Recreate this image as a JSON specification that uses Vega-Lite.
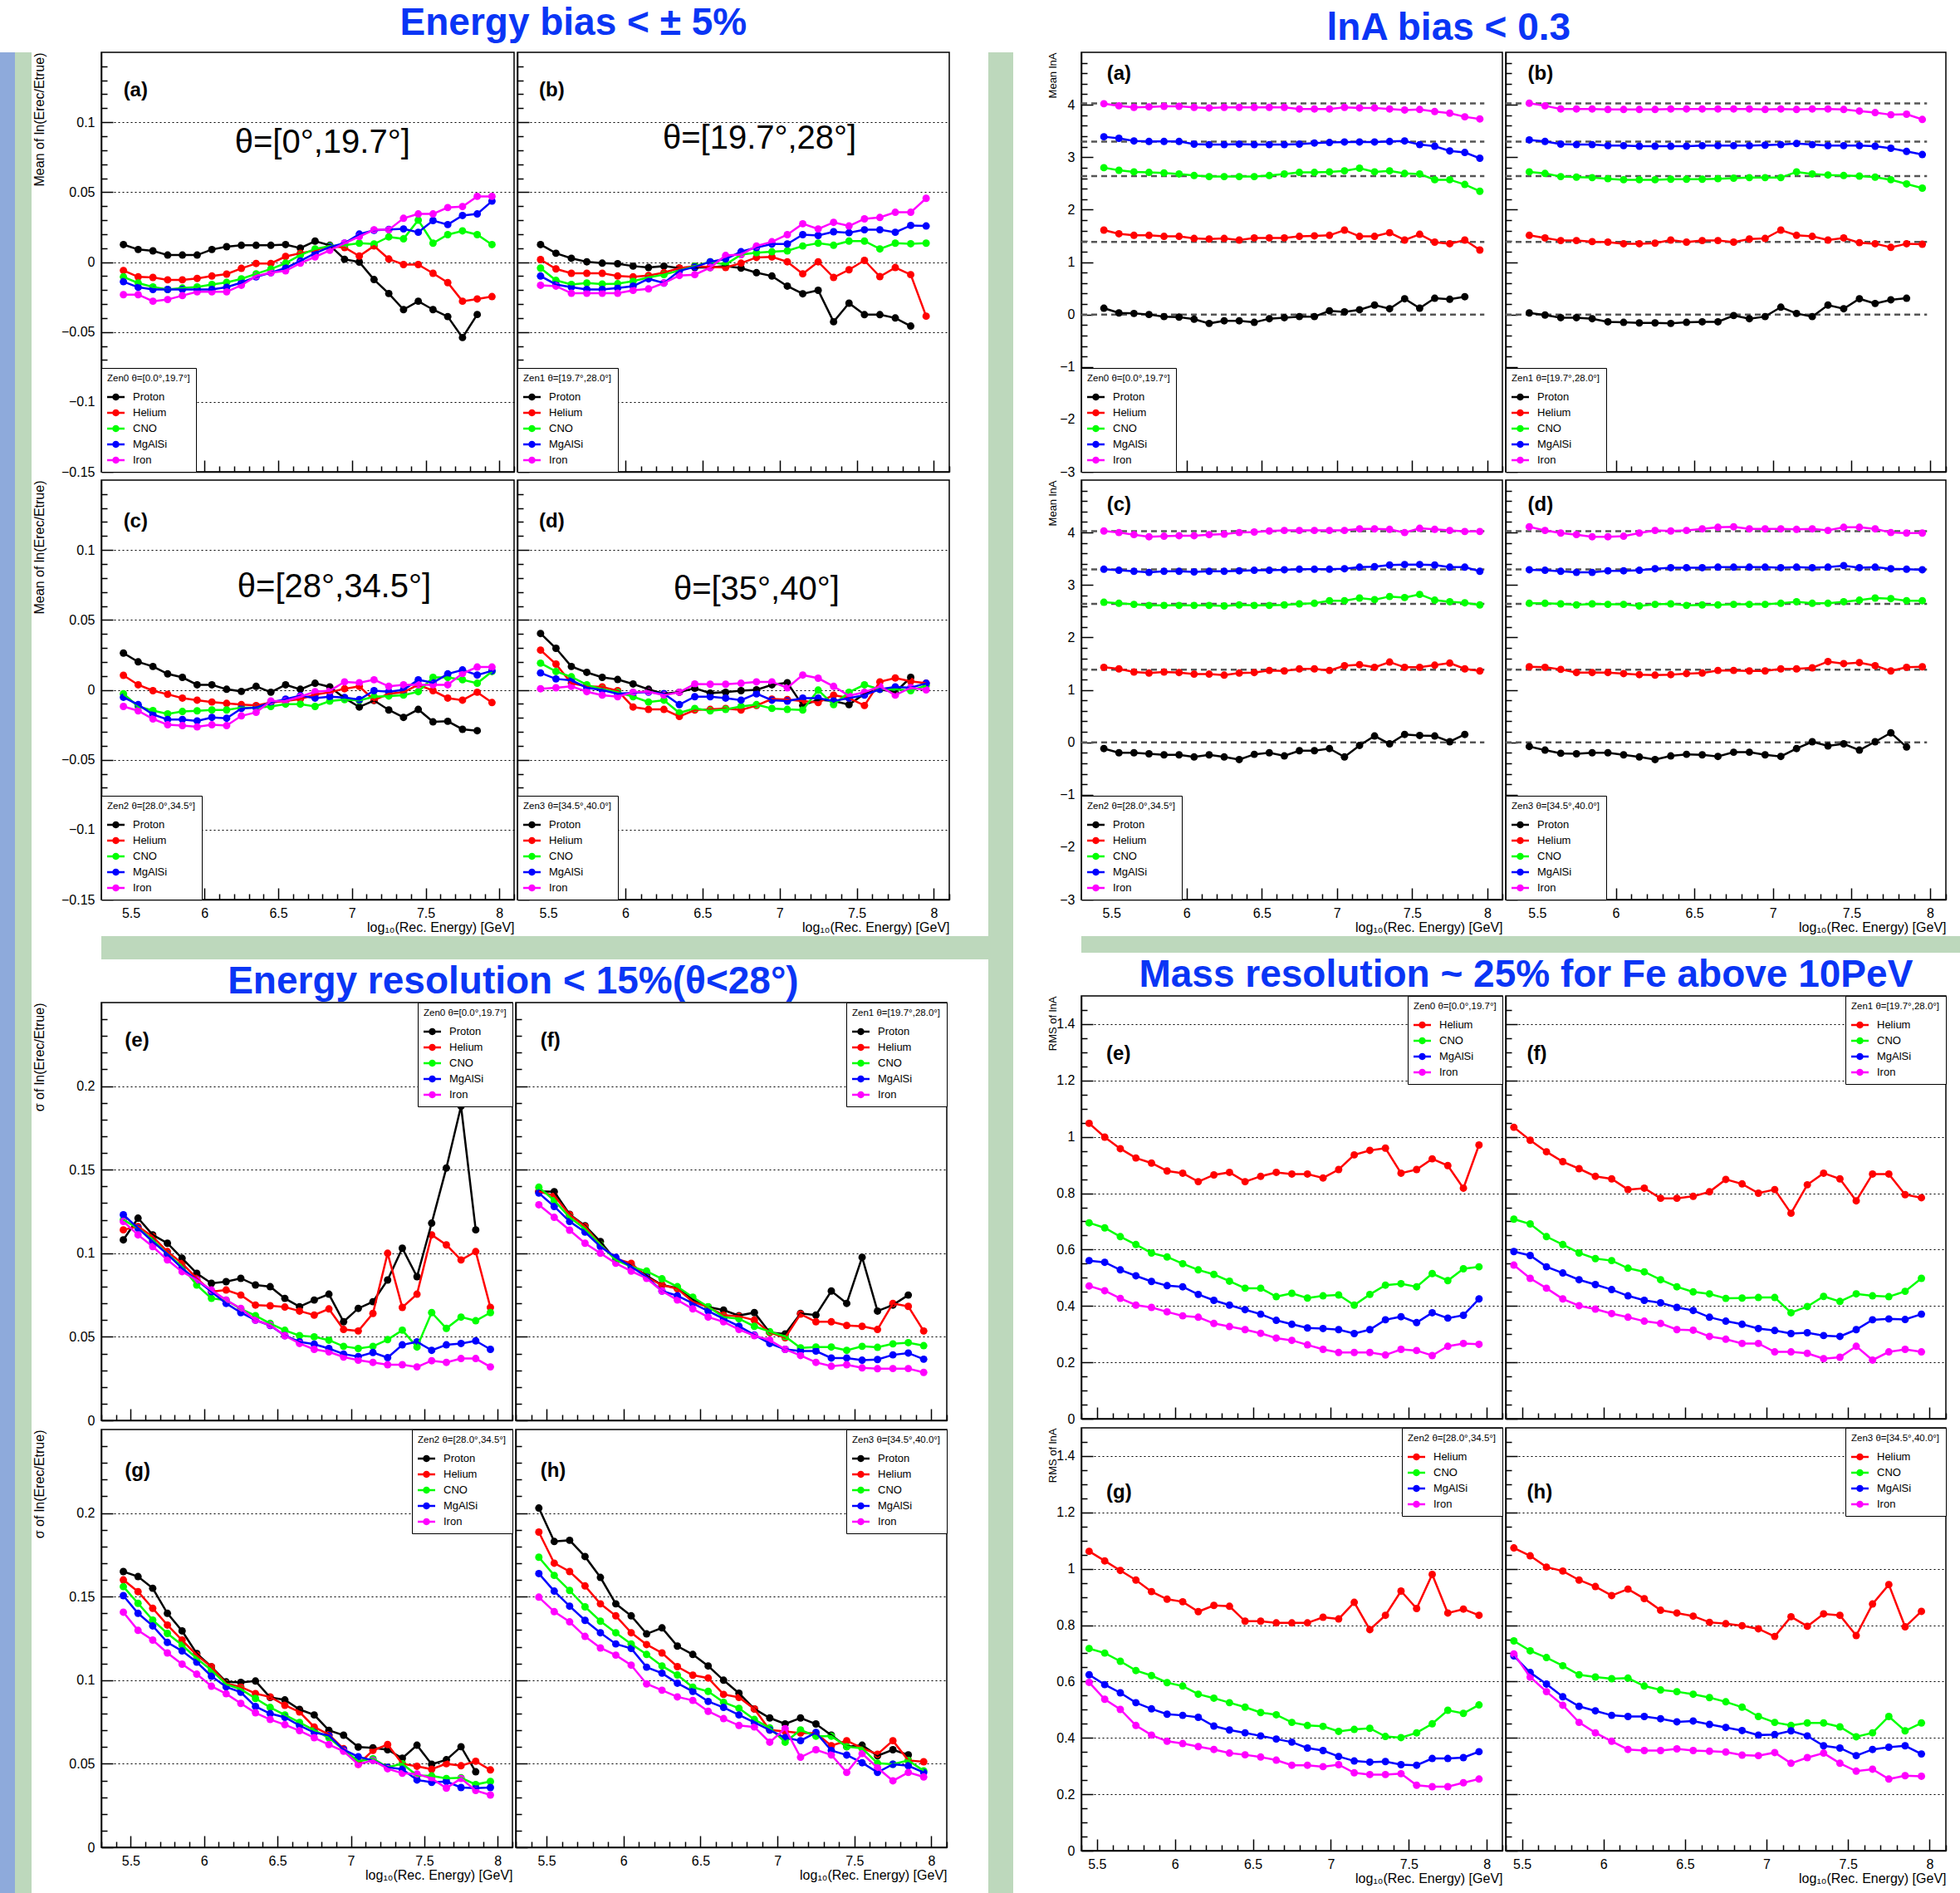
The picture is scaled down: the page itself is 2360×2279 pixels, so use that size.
{
"$schema":"https://vega.github.io/schema/vega-lite/v6.json",
"background":"white",
"padding":{"top":5,"left":0,"right":0,"bottom":0},
"datasets":{
"ref":[{"v":0},{"v":1.386},{"v":2.639},{"v":3.296},{"v":4.025}],
"d":[
{"p":"ea","s":"Proton","x":[5.45,5.55,5.65,5.75,5.85,5.95,6.05,6.15,6.25,6.35,6.45,6.55,6.65,6.75,6.85,6.95,7.05,7.15,7.25,7.35,7.45,7.55,7.65,7.75,7.85],"y":[0.0125,0.009,0.008,0.005,0.005,0.005,0.009,0.011,0.012,0.012,0.012,0.0125,0.010,0.015,0.012,0.002,0.0,-0.0125,-0.0225,-0.034,-0.028,-0.034,-0.039,-0.054,-0.0375]},
{"p":"ea","s":"Helium","x":[5.45,5.55,5.65,5.75,5.85,5.95,6.05,6.15,6.25,6.35,6.45,6.55,6.65,6.75,6.85,6.95,7.05,7.15,7.25,7.35,7.45,7.55,7.65,7.75,7.85,7.95],"y":[-0.006,-0.0106,-0.011,-0.0127,-0.0127,-0.0117,-0.010,-0.0086,-0.0045,-0.001,-0.001,0.004,0.0063,0.0084,0.0115,0.0104,0.0043,0.0115,0.0022,-0.0018,-0.0018,-0.008,-0.0147,-0.028,-0.0264,-0.0247]},
{"p":"ea","s":"CNO","x":[5.45,5.55,5.65,5.75,5.85,5.95,6.05,6.15,6.25,6.35,6.45,6.55,6.65,6.75,6.85,6.95,7.05,7.15,7.25,7.35,7.45,7.55,7.65,7.75,7.85,7.95],"y":[-0.0106,-0.015,-0.0178,-0.0196,-0.0186,-0.0178,-0.016,-0.0145,-0.012,-0.0084,-0.005,-0.0008,0.005,0.0094,0.0115,0.012,0.0135,0.0129,0.018,0.0166,0.030,0.0135,0.0196,0.0223,0.0196,0.0125]},
{"p":"ea","s":"MgAlSi","x":[5.45,5.55,5.65,5.75,5.85,5.95,6.05,6.15,6.25,6.35,6.45,6.55,6.65,6.75,6.85,6.95,7.05,7.15,7.25,7.35,7.45,7.55,7.65,7.75,7.85,7.95],"y":[-0.014,-0.018,-0.0196,-0.0196,-0.0196,-0.0196,-0.0196,-0.018,-0.0147,-0.0106,-0.0076,-0.0043,0.0008,0.0063,0.0108,0.0135,0.020,0.0227,0.0233,0.0237,0.0213,0.0297,0.0268,0.0333,0.0344,0.0436]},
{"p":"ea","s":"Iron","x":[5.45,5.55,5.65,5.75,5.85,5.95,6.05,6.15,6.25,6.35,6.45,6.55,6.65,6.75,6.85,6.95,7.05,7.15,7.25,7.35,7.45,7.55,7.65,7.75,7.85,7.95],"y":[-0.0233,-0.0233,-0.028,-0.0268,-0.024,-0.0213,-0.0213,-0.0213,-0.0166,-0.010,-0.0076,-0.0063,-0.0008,0.0037,0.0084,0.0135,0.0182,0.0231,0.0231,0.0313,0.0344,0.0344,0.039,0.0397,0.047,0.047]},
{"p":"eb","s":"Proton","x":[5.45,5.55,5.65,5.75,5.85,5.95,6.05,6.15,6.25,6.35,6.45,6.55,6.65,6.75,6.85,6.95,7.05,7.15,7.25,7.35,7.45,7.55,7.65,7.75,7.85],"y":[0.0125,0.0063,0.0027,0.0002,-0.0008,-0.0012,-0.0029,-0.0039,-0.0029,-0.0043,-0.0039,-0.0039,-0.0029,-0.0043,-0.0076,-0.010,-0.0172,-0.0227,-0.0202,-0.0427,-0.0294,-0.0376,-0.0376,-0.040,-0.0458]},
{"p":"eb","s":"Helium","x":[5.45,5.55,5.65,5.75,5.85,5.95,6.05,6.15,6.25,6.35,6.45,6.55,6.65,6.75,6.85,6.95,7.05,7.15,7.25,7.35,7.45,7.55,7.65,7.75,7.85,7.95],"y":[0.0018,-0.0049,-0.008,-0.008,-0.008,-0.010,-0.0106,-0.0096,-0.0076,-0.0043,-0.0029,-0.0035,-0.0039,-0.0008,0.0033,0.0037,0.0002,-0.0084,0.0002,-0.011,-0.0055,0.0012,-0.0104,-0.0039,-0.009,-0.0387]},
{"p":"eb","s":"CNO","x":[5.45,5.55,5.65,5.75,5.85,5.95,6.05,6.15,6.25,6.35,6.45,6.55,6.65,6.75,6.85,6.95,7.05,7.15,7.25,7.35,7.45,7.55,7.65,7.75,7.85,7.95],"y":[-0.0043,-0.0131,-0.016,-0.015,-0.0157,-0.0155,-0.0137,-0.011,-0.009,-0.006,-0.0029,0.0002,-0.0018,0.0053,0.0067,0.0074,0.008,0.0115,0.0135,0.012,0.015,0.015,0.0094,0.0135,0.0131,0.0135]},
{"p":"eb","s":"MgAlSi","x":[5.45,5.55,5.65,5.75,5.85,5.95,6.05,6.15,6.25,6.35,6.45,6.55,6.65,6.75,6.85,6.95,7.05,7.15,7.25,7.35,7.45,7.55,7.65,7.75,7.85,7.95],"y":[-0.010,-0.016,-0.018,-0.0196,-0.0196,-0.0186,-0.0172,-0.012,-0.015,-0.0063,-0.0035,0.0002,0.0022,0.0074,0.0104,0.0129,0.0129,0.0196,0.019,0.0217,0.021,0.0231,0.0231,0.0213,0.0262,0.0258]},
{"p":"eb","s":"Iron","x":[5.45,5.55,5.65,5.75,5.85,5.95,6.05,6.15,6.25,6.35,6.45,6.55,6.65,6.75,6.85,6.95,7.05,7.15,7.25,7.35,7.45,7.55,7.65,7.75,7.85,7.95],"y":[-0.0166,-0.0172,-0.0223,-0.0223,-0.0223,-0.0223,-0.0202,-0.0192,-0.015,-0.0096,-0.009,-0.0039,0.0047,0.0053,0.0115,0.0145,0.0196,0.0274,0.0237,0.0284,0.0258,0.0309,0.0319,0.0356,0.0356,0.0456]},
{"p":"ec","s":"Proton","x":[5.45,5.55,5.65,5.75,5.85,5.95,6.05,6.15,6.25,6.35,6.45,6.55,6.65,6.75,6.85,6.95,7.05,7.15,7.25,7.35,7.45,7.55,7.65,7.75,7.85],"y":[0.0263,0.020,0.0167,0.0114,0.0089,0.0036,0.0036,0.0004,-0.0011,0.0025,-0.0017,0.0036,0.0004,0.0047,0.0021,-0.0059,-0.0123,-0.0076,-0.0144,-0.0197,-0.014,-0.0229,-0.0225,-0.0282,-0.0292]},
{"p":"ec","s":"Helium","x":[5.45,5.55,5.65,5.75,5.85,5.95,6.05,6.15,6.25,6.35,6.45,6.55,6.65,6.75,6.85,6.95,7.05,7.15,7.25,7.35,7.45,7.55,7.65,7.75,7.85,7.95],"y":[0.0104,0.0036,-0.0006,-0.0032,-0.0059,-0.0074,-0.0087,-0.0097,-0.0106,-0.0112,-0.0091,-0.008,-0.0066,-0.0034,-0.0017,0.0008,0.0025,-0.0074,-0.0028,-0.0017,0.0036,-0.0006,-0.0059,-0.0074,-0.0017,-0.0091]},
{"p":"ec","s":"CNO","x":[5.45,5.55,5.65,5.75,5.85,5.95,6.05,6.15,6.25,6.35,6.45,6.55,6.65,6.75,6.85,6.95,7.05,7.15,7.25,7.35,7.45,7.55,7.65,7.75,7.85,7.95],"y":[-0.0028,-0.0119,-0.0148,-0.0172,-0.0155,-0.015,-0.0144,-0.0144,-0.0127,-0.0127,-0.0119,-0.0102,-0.0102,-0.0119,-0.008,-0.007,-0.0076,-0.0049,-0.0044,-0.0038,-0.0013,0.0089,0.0089,0.0072,0.0047,0.0131]},
{"p":"ec","s":"MgAlSi","x":[5.45,5.55,5.65,5.75,5.85,5.95,6.05,6.15,6.25,6.35,6.45,6.55,6.65,6.75,6.85,6.95,7.05,7.15,7.25,7.35,7.45,7.55,7.65,7.75,7.85,7.95],"y":[-0.0053,-0.0106,-0.0176,-0.0212,-0.0212,-0.0222,-0.0197,-0.0203,-0.0133,-0.0127,-0.0091,-0.0066,-0.0042,-0.0059,-0.0049,-0.0055,-0.007,-0.0006,-0.0013,0,0.0072,0.0051,0.0114,0.0142,0.0106,0.0136]},
{"p":"ec","s":"Iron","x":[5.45,5.55,5.65,5.75,5.85,5.95,6.05,6.15,6.25,6.35,6.45,6.55,6.65,6.75,6.85,6.95,7.05,7.15,7.25,7.35,7.45,7.55,7.65,7.75,7.85,7.95],"y":[-0.0119,-0.015,-0.0208,-0.025,-0.0256,-0.0265,-0.025,-0.0256,-0.0186,-0.0161,-0.008,-0.008,-0.0049,-0.0013,-0.0006,0.0057,0.0051,0.0072,0.0025,0.0036,0.0036,0.0036,0.0036,0.0117,0.0163,0.0163]},
{"p":"ed","s":"Proton","x":[5.45,5.55,5.65,5.75,5.85,5.95,6.05,6.15,6.25,6.35,6.45,6.55,6.65,6.75,6.85,6.95,7.05,7.15,7.25,7.35,7.45,7.55,7.65,7.75,7.85],"y":[0.0403,0.0297,0.0167,0.0125,0.0089,0.0074,0.0042,0.0004,-0.0028,-0.0017,0.0011,-0.0023,-0.0017,-0.0006,0,0.0036,0.0051,-0.0112,-0.007,-0.008,-0.0106,-0.0028,0.0004,-0.0017,0.0089]},
{"p":"ed","s":"Helium","x":[5.45,5.55,5.65,5.75,5.85,5.95,6.05,6.15,6.25,6.35,6.45,6.55,6.65,6.75,6.85,6.95,7.05,7.15,7.25,7.35,7.45,7.55,7.65,7.75,7.85,7.95],"y":[0.0284,0.0184,0.0047,0.0025,0.0021,-0.0006,-0.0123,-0.014,-0.014,-0.0191,-0.0144,-0.014,-0.0133,-0.0144,-0.0112,-0.0066,-0.007,-0.008,-0.0091,-0.0038,-0.0059,-0.0112,0.0057,0.0085,0.0061,0.0047]},
{"p":"ed","s":"CNO","x":[5.45,5.55,5.65,5.75,5.85,5.95,6.05,6.15,6.25,6.35,6.45,6.55,6.65,6.75,6.85,6.95,7.05,7.15,7.25,7.35,7.45,7.55,7.65,7.75,7.85,7.95],"y":[0.0191,0.0131,0.0093,0.0036,0.0004,-0.0017,-0.0049,-0.0087,-0.0074,-0.0165,-0.0133,-0.015,-0.014,-0.0119,-0.0106,-0.0133,-0.014,-0.0144,-0.0002,-0.0106,-0.0017,0.0036,0.0004,0.0004,-0.0006,0.003]},
{"p":"ed","s":"MgAlSi","x":[5.45,5.55,5.65,5.75,5.85,5.95,6.05,6.15,6.25,6.35,6.45,6.55,6.65,6.75,6.85,6.95,7.05,7.15,7.25,7.35,7.45,7.55,7.65,7.75,7.85,7.95],"y":[0.0121,0.0078,0.0068,0.0015,-0.0002,-0.0028,-0.0021,-0.0017,-0.0028,-0.0106,-0.0049,-0.0049,-0.0059,-0.0074,-0.0028,-0.0074,-0.008,-0.0059,-0.0059,-0.008,-0.0059,-0.0038,0.0004,0.0021,0.0015,0.0047]},
{"p":"ed","s":"Iron","x":[5.45,5.55,5.65,5.75,5.85,5.95,6.05,6.15,6.25,6.35,6.45,6.55,6.65,6.75,6.85,6.95,7.05,7.15,7.25,7.35,7.45,7.55,7.65,7.75,7.85,7.95],"y":[0.0008,0.0015,0.0025,-0.0013,-0.0038,-0.0049,-0.0017,-0.0013,-0.0038,-0.0017,0.0042,0.004,0.004,0.0047,0.0057,0.0057,0.0015,0.0106,0.0083,0.0025,-0.0042,-0.0017,0.0025,-0.0038,0.0015,0]},
{"p":"la","s":"Proton","x":[5.45,5.55,5.65,5.75,5.85,5.95,6.05,6.15,6.25,6.35,6.45,6.55,6.65,6.75,6.85,6.95,7.05,7.15,7.25,7.35,7.45,7.55,7.65,7.75,7.85],"y":[0.12,0.03,0.02,0,-0.04,-0.05,-0.09,-0.17,-0.12,-0.12,-0.15,-0.08,-0.06,-0.04,-0.04,0.07,0.05,0.09,0.18,0.11,0.30,0.12,0.31,0.29,0.34]},
{"p":"la","s":"Helium","x":[5.45,5.55,5.65,5.75,5.85,5.95,6.05,6.15,6.25,6.35,6.45,6.55,6.65,6.75,6.85,6.95,7.05,7.15,7.25,7.35,7.45,7.55,7.65,7.75,7.85,7.95],"y":[1.61,1.54,1.51,1.51,1.49,1.49,1.45,1.44,1.45,1.42,1.46,1.46,1.46,1.49,1.50,1.51,1.61,1.49,1.49,1.56,1.42,1.53,1.38,1.35,1.42,1.23]},
{"p":"la","s":"CNO","x":[5.45,5.55,5.65,5.75,5.85,5.95,6.05,6.15,6.25,6.35,6.45,6.55,6.65,6.75,6.85,6.95,7.05,7.15,7.25,7.35,7.45,7.55,7.65,7.75,7.85,7.95],"y":[2.80,2.75,2.72,2.71,2.70,2.68,2.65,2.63,2.63,2.63,2.63,2.65,2.68,2.71,2.71,2.72,2.74,2.79,2.72,2.74,2.69,2.68,2.57,2.57,2.48,2.35]},
{"p":"la","s":"MgAlSi","x":[5.45,5.55,5.65,5.75,5.85,5.95,6.05,6.15,6.25,6.35,6.45,6.55,6.65,6.75,6.85,6.95,7.05,7.15,7.25,7.35,7.45,7.55,7.65,7.75,7.85,7.95],"y":[3.39,3.36,3.31,3.30,3.30,3.30,3.25,3.24,3.24,3.25,3.24,3.24,3.24,3.25,3.27,3.28,3.29,3.29,3.29,3.30,3.31,3.24,3.21,3.12,3.09,2.98]},
{"p":"la","s":"Iron","x":[5.45,5.55,5.65,5.75,5.85,5.95,6.05,6.15,6.25,6.35,6.45,6.55,6.65,6.75,6.85,6.95,7.05,7.15,7.25,7.35,7.45,7.55,7.65,7.75,7.85,7.95],"y":[4.02,3.98,3.95,3.96,3.97,3.97,3.95,3.94,3.95,3.95,3.95,3.95,3.95,3.92,3.92,3.92,3.95,3.94,3.94,3.92,3.90,3.91,3.87,3.84,3.77,3.73]},
{"p":"lb","s":"Proton","x":[5.45,5.55,5.65,5.75,5.85,5.95,6.05,6.15,6.25,6.35,6.45,6.55,6.65,6.75,6.85,6.95,7.05,7.15,7.25,7.35,7.45,7.55,7.65,7.75,7.85],"y":[0.03,-0.01,-0.06,-0.06,-0.08,-0.14,-0.15,-0.16,-0.16,-0.17,-0.15,-0.14,-0.14,-0.02,-0.08,-0.04,0.14,0.02,-0.04,0.18,0.11,0.30,0.21,0.28,0.31]},
{"p":"lb","s":"Helium","x":[5.45,5.55,5.65,5.75,5.85,5.95,6.05,6.15,6.25,6.35,6.45,6.55,6.65,6.75,6.85,6.95,7.05,7.15,7.25,7.35,7.45,7.55,7.65,7.75,7.85,7.95],"y":[1.51,1.46,1.41,1.41,1.39,1.38,1.35,1.35,1.36,1.42,1.38,1.41,1.41,1.38,1.44,1.45,1.61,1.51,1.49,1.42,1.46,1.37,1.35,1.28,1.35,1.34]},
{"p":"lb","s":"CNO","x":[5.45,5.55,5.65,5.75,5.85,5.95,6.05,6.15,6.25,6.35,6.45,6.55,6.65,6.75,6.85,6.95,7.05,7.15,7.25,7.35,7.45,7.55,7.65,7.75,7.85,7.95],"y":[2.72,2.69,2.63,2.62,2.61,2.59,2.57,2.57,2.57,2.58,2.58,2.58,2.59,2.60,2.61,2.61,2.61,2.72,2.68,2.66,2.65,2.64,2.62,2.57,2.49,2.41]},
{"p":"lb","s":"MgAlSi","x":[5.45,5.55,5.65,5.75,5.85,5.95,6.05,6.15,6.25,6.35,6.45,6.55,6.65,6.75,6.85,6.95,7.05,7.15,7.25,7.35,7.45,7.55,7.65,7.75,7.85,7.95],"y":[3.33,3.30,3.25,3.24,3.24,3.22,3.22,3.21,3.21,3.21,3.21,3.22,3.22,3.22,3.22,3.23,3.24,3.26,3.24,3.22,3.22,3.22,3.21,3.17,3.11,3.05]},
{"p":"lb","s":"Iron","x":[5.45,5.55,5.65,5.75,5.85,5.95,6.05,6.15,6.25,6.35,6.45,6.55,6.65,6.75,6.85,6.95,7.05,7.15,7.25,7.35,7.45,7.55,7.65,7.75,7.85,7.95],"y":[4.03,3.98,3.92,3.92,3.92,3.91,3.91,3.91,3.91,3.92,3.92,3.92,3.92,3.92,3.92,3.91,3.92,3.91,3.92,3.92,3.91,3.88,3.85,3.81,3.82,3.72]},
{"p":"lc","s":"Proton","x":[5.45,5.55,5.65,5.75,5.85,5.95,6.05,6.15,6.25,6.35,6.45,6.55,6.65,6.75,6.85,6.95,7.05,7.15,7.25,7.35,7.45,7.55,7.65,7.75,7.85],"y":[-0.12,-0.20,-0.20,-0.22,-0.24,-0.24,-0.28,-0.24,-0.28,-0.33,-0.23,-0.20,-0.26,-0.16,-0.16,-0.12,-0.28,-0.06,0.12,-0.03,0.15,0.13,0.12,0.01,0.15]},
{"p":"lc","s":"Helium","x":[5.45,5.55,5.65,5.75,5.85,5.95,6.05,6.15,6.25,6.35,6.45,6.55,6.65,6.75,6.85,6.95,7.05,7.15,7.25,7.35,7.45,7.55,7.65,7.75,7.85,7.95],"y":[1.43,1.40,1.34,1.32,1.34,1.33,1.30,1.30,1.28,1.32,1.33,1.37,1.36,1.40,1.40,1.37,1.46,1.48,1.43,1.53,1.43,1.43,1.47,1.51,1.40,1.36]},
{"p":"lc","s":"CNO","x":[5.45,5.55,5.65,5.75,5.85,5.95,6.05,6.15,6.25,6.35,6.45,6.55,6.65,6.75,6.85,6.95,7.05,7.15,7.25,7.35,7.45,7.55,7.65,7.75,7.85,7.95],"y":[2.67,2.65,2.63,2.61,2.61,2.61,2.61,2.61,2.60,2.62,2.61,2.61,2.62,2.64,2.65,2.70,2.70,2.75,2.72,2.78,2.76,2.82,2.71,2.68,2.66,2.62]},
{"p":"lc","s":"MgAlSi","x":[5.45,5.55,5.65,5.75,5.85,5.95,6.05,6.15,6.25,6.35,6.45,6.55,6.65,6.75,6.85,6.95,7.05,7.15,7.25,7.35,7.45,7.55,7.65,7.75,7.85,7.95],"y":[3.30,3.28,3.26,3.24,3.26,3.26,3.25,3.26,3.26,3.27,3.28,3.28,3.29,3.30,3.30,3.30,3.31,3.34,3.35,3.38,3.39,3.39,3.38,3.34,3.34,3.26]},
{"p":"lc","s":"Iron","x":[5.45,5.55,5.65,5.75,5.85,5.95,6.05,6.15,6.25,6.35,6.45,6.55,6.65,6.75,6.85,6.95,7.05,7.15,7.25,7.35,7.45,7.55,7.65,7.75,7.85,7.95],"y":[4.03,4.00,3.96,3.92,3.93,3.94,3.94,3.96,3.97,4.00,4.01,4.03,4.04,4.04,4.04,4.04,4.04,4.07,4.07,4.06,4.00,4.08,4.06,4.04,4.02,4.02]},
{"p":"ld","s":"Proton","x":[5.45,5.55,5.65,5.75,5.85,5.95,6.05,6.15,6.25,6.35,6.45,6.55,6.65,6.75,6.85,6.95,7.05,7.15,7.25,7.35,7.45,7.55,7.65,7.75,7.85],"y":[-0.08,-0.15,-0.21,-0.22,-0.20,-0.20,-0.24,-0.28,-0.33,-0.26,-0.23,-0.24,-0.27,-0.19,-0.19,-0.24,-0.27,-0.12,0.01,-0.07,-0.03,-0.15,0.01,0.18,-0.09]},
{"p":"ld","s":"Helium","x":[5.45,5.55,5.65,5.75,5.85,5.95,6.05,6.15,6.25,6.35,6.45,6.55,6.65,6.75,6.85,6.95,7.05,7.15,7.25,7.35,7.45,7.55,7.65,7.75,7.85,7.95],"y":[1.44,1.43,1.39,1.33,1.33,1.33,1.31,1.29,1.28,1.29,1.31,1.32,1.37,1.37,1.36,1.36,1.40,1.40,1.42,1.54,1.50,1.52,1.46,1.36,1.43,1.44]},
{"p":"ld","s":"CNO","x":[5.45,5.55,5.65,5.75,5.85,5.95,6.05,6.15,6.25,6.35,6.45,6.55,6.65,6.75,6.85,6.95,7.05,7.15,7.25,7.35,7.45,7.55,7.65,7.75,7.85,7.95],"y":[2.65,2.65,2.64,2.62,2.64,2.63,2.63,2.60,2.63,2.64,2.61,2.62,2.62,2.63,2.63,2.63,2.65,2.68,2.65,2.65,2.68,2.71,2.75,2.74,2.70,2.70]},
{"p":"ld","s":"MgAlSi","x":[5.45,5.55,5.65,5.75,5.85,5.95,6.05,6.15,6.25,6.35,6.45,6.55,6.65,6.75,6.85,6.95,7.05,7.15,7.25,7.35,7.45,7.55,7.65,7.75,7.85,7.95],"y":[3.29,3.28,3.26,3.24,3.24,3.27,3.27,3.28,3.31,3.33,3.33,3.33,3.34,3.34,3.34,3.34,3.33,3.34,3.33,3.34,3.37,3.33,3.34,3.31,3.30,3.29]},
{"p":"ld","s":"Iron","x":[5.45,5.55,5.65,5.75,5.85,5.95,6.05,6.15,6.25,6.35,6.45,6.55,6.65,6.75,6.85,6.95,7.05,7.15,7.25,7.35,7.45,7.55,7.65,7.75,7.85,7.95],"y":[4.11,4.04,3.99,3.96,3.92,3.92,3.93,3.99,4.04,4.03,4.04,4.07,4.10,4.11,4.07,4.07,4.07,4.06,4.07,4.04,4.10,4.10,4.07,4.00,3.99,3.99]},
{"p":"re","s":"Proton","x":[5.45,5.55,5.65,5.75,5.85,5.95,6.05,6.15,6.25,6.35,6.45,6.55,6.65,6.75,6.85,6.95,7.05,7.15,7.25,7.35,7.45,7.55,7.65,7.75,7.85],"y":[0.108,0.121,0.111,0.106,0.097,0.088,0.082,0.083,0.085,0.081,0.080,0.073,0.068,0.072,0.0755,0.059,0.067,0.071,0.084,0.103,0.086,0.118,0.151,0.188,0.114]},
{"p":"re","s":"Helium","x":[5.45,5.55,5.65,5.75,5.85,5.95,6.05,6.15,6.25,6.35,6.45,6.55,6.65,6.75,6.85,6.95,7.05,7.15,7.25,7.35,7.45,7.55,7.65,7.75,7.85,7.95],"y":[0.114,0.116,0.110,0.101,0.094,0.085,0.077,0.078,0.075,0.069,0.0686,0.0678,0.0654,0.063,0.0667,0.0544,0.0535,0.064,0.100,0.0676,0.0755,0.111,0.105,0.096,0.101,0.0676]},
{"p":"re","s":"CNO","x":[5.45,5.55,5.65,5.75,5.85,5.95,6.05,6.15,6.25,6.35,6.45,6.55,6.65,6.75,6.85,6.95,7.05,7.15,7.25,7.35,7.45,7.55,7.65,7.75,7.85,7.95],"y":[0.120,0.115,0.108,0.0995,0.092,0.081,0.073,0.072,0.0667,0.0627,0.058,0.0539,0.0507,0.050,0.048,0.0443,0.043,0.0443,0.0483,0.054,0.0439,0.0645,0.055,0.0618,0.0596,0.0645]},
{"p":"re","s":"MgAlSi","x":[5.45,5.55,5.65,5.75,5.85,5.95,6.05,6.15,6.25,6.35,6.45,6.55,6.65,6.75,6.85,6.95,7.05,7.15,7.25,7.35,7.45,7.55,7.65,7.75,7.85,7.95],"y":[0.123,0.115,0.107,0.0995,0.091,0.084,0.077,0.070,0.0645,0.060,0.0568,0.0507,0.047,0.0456,0.043,0.0397,0.0382,0.0406,0.0375,0.0452,0.047,0.0419,0.0452,0.046,0.0476,0.0425]},
{"p":"re","s":"Iron","x":[5.45,5.55,5.65,5.75,5.85,5.95,6.05,6.15,6.25,6.35,6.45,6.55,6.65,6.75,6.85,6.95,7.05,7.15,7.25,7.35,7.45,7.55,7.65,7.75,7.85,7.95],"y":[0.119,0.111,0.104,0.096,0.089,0.084,0.078,0.072,0.067,0.060,0.057,0.0507,0.046,0.0425,0.041,0.0379,0.036,0.0347,0.0333,0.0333,0.032,0.0357,0.0347,0.037,0.037,0.032]},
{"p":"rf","s":"Proton","x":[5.45,5.55,5.65,5.75,5.85,5.95,6.05,6.15,6.25,6.35,6.45,6.55,6.65,6.75,6.85,6.95,7.05,7.15,7.25,7.35,7.45,7.55,7.65,7.75,7.85],"y":[0.137,0.1368,0.1233,0.1165,0.107,0.0958,0.093,0.0866,0.081,0.0792,0.0722,0.0678,0.066,0.0627,0.0645,0.0526,0.0517,0.064,0.063,0.0774,0.070,0.0976,0.0654,0.069,0.075]},
{"p":"rf","s":"Helium","x":[5.45,5.55,5.65,5.75,5.85,5.95,6.05,6.15,6.25,6.35,6.45,6.55,6.65,6.75,6.85,6.95,7.05,7.15,7.25,7.35,7.45,7.55,7.65,7.75,7.85,7.95],"y":[0.137,0.1344,0.123,0.116,0.105,0.0967,0.094,0.0857,0.081,0.0787,0.071,0.0678,0.063,0.0623,0.060,0.0526,0.0494,0.0636,0.059,0.059,0.0568,0.0563,0.0544,0.070,0.0682,0.0535]},
{"p":"rf","s":"CNO","x":[5.45,5.55,5.65,5.75,5.85,5.95,6.05,6.15,6.25,6.35,6.45,6.55,6.65,6.75,6.85,6.95,7.05,7.15,7.25,7.35,7.45,7.55,7.65,7.75,7.85,7.95],"y":[0.1395,0.1316,0.1215,0.1145,0.105,0.096,0.092,0.0893,0.0847,0.080,0.0737,0.068,0.0618,0.0608,0.0563,0.0531,0.0502,0.0434,0.0439,0.0439,0.0419,0.0443,0.0437,0.0458,0.0465,0.0447]},
{"p":"rf","s":"MgAlSi","x":[5.45,5.55,5.65,5.75,5.85,5.95,6.05,6.15,6.25,6.35,6.45,6.55,6.65,6.75,6.85,6.95,7.05,7.15,7.25,7.35,7.45,7.55,7.65,7.75,7.85,7.95],"y":[0.136,0.128,0.119,0.1127,0.104,0.0976,0.092,0.0857,0.0774,0.0746,0.070,0.0654,0.0608,0.0563,0.0511,0.046,0.0425,0.0415,0.0415,0.0373,0.0373,0.036,0.0364,0.0392,0.0403,0.0366]},
{"p":"rf","s":"Iron","x":[5.45,5.55,5.65,5.75,5.85,5.95,6.05,6.15,6.25,6.35,6.45,6.55,6.65,6.75,6.85,6.95,7.05,7.15,7.25,7.35,7.45,7.55,7.65,7.75,7.85,7.95],"y":[0.129,0.1215,0.1138,0.106,0.100,0.094,0.0893,0.085,0.0774,0.072,0.0667,0.0618,0.059,0.0544,0.0507,0.048,0.0425,0.0388,0.0347,0.0324,0.0333,0.0314,0.0309,0.031,0.031,0.0287]},
{"p":"rg","s":"Proton","x":[5.45,5.55,5.65,5.75,5.85,5.95,6.05,6.15,6.25,6.35,6.45,6.55,6.65,6.75,6.85,6.95,7.05,7.15,7.25,7.35,7.45,7.55,7.65,7.75,7.85],"y":[0.165,0.162,0.155,0.140,0.1295,0.116,0.108,0.099,0.0987,0.0995,0.0897,0.0882,0.0825,0.0792,0.070,0.0671,0.060,0.0595,0.0584,0.0533,0.0611,0.0497,0.0524,0.0602,0.0452]},
{"p":"rg","s":"Helium","x":[5.45,5.55,5.65,5.75,5.85,5.95,6.05,6.15,6.25,6.35,6.45,6.55,6.65,6.75,6.85,6.95,7.05,7.15,7.25,7.35,7.45,7.55,7.65,7.75,7.85,7.95],"y":[0.160,0.153,0.143,0.133,0.124,0.115,0.108,0.098,0.096,0.092,0.090,0.085,0.081,0.072,0.0675,0.059,0.0497,0.058,0.0615,0.050,0.0485,0.0467,0.050,0.0488,0.0515,0.0463]},
{"p":"rg","s":"CNO","x":[5.45,5.55,5.65,5.75,5.85,5.95,6.05,6.15,6.25,6.35,6.45,6.55,6.65,6.75,6.85,6.95,7.05,7.15,7.25,7.35,7.45,7.55,7.65,7.75,7.85,7.95],"y":[0.156,0.146,0.136,0.128,0.121,0.113,0.106,0.0976,0.0946,0.0891,0.0837,0.0792,0.0747,0.070,0.0656,0.0584,0.0515,0.053,0.0479,0.050,0.043,0.0427,0.0412,0.0416,0.0376,0.0394]},
{"p":"rg","s":"MgAlSi","x":[5.45,5.55,5.65,5.75,5.85,5.95,6.05,6.15,6.25,6.35,6.45,6.55,6.65,6.75,6.85,6.95,7.05,7.15,7.25,7.35,7.45,7.55,7.65,7.75,7.85,7.95],"y":[0.1506,0.140,0.1325,0.1226,0.1175,0.1108,0.1024,0.096,0.0928,0.0843,0.080,0.0778,0.0729,0.0687,0.0669,0.0584,0.0542,0.052,0.0479,0.0467,0.0403,0.0389,0.0394,0.0358,0.0354,0.0358]},
{"p":"rg","s":"Iron","x":[5.45,5.55,5.65,5.75,5.85,5.95,6.05,6.15,6.25,6.35,6.45,6.55,6.65,6.75,6.85,6.95,7.05,7.15,7.25,7.35,7.45,7.55,7.65,7.75,7.85,7.95],"y":[0.1407,0.1298,0.124,0.1163,0.1096,0.1036,0.0964,0.0919,0.0861,0.0805,0.0765,0.0734,0.0698,0.0656,0.0615,0.0575,0.0497,0.052,0.047,0.0443,0.0439,0.0412,0.0354,0.0412,0.034,0.0313]},
{"p":"rh","s":"Proton","x":[5.45,5.55,5.65,5.75,5.85,5.95,6.05,6.15,6.25,6.35,6.45,6.55,6.65,6.75,6.85,6.95,7.05,7.15,7.25,7.35,7.45,7.55,7.65,7.75,7.85],"y":[0.203,0.183,0.1837,0.174,0.1615,0.1457,0.1385,0.1277,0.1313,0.1204,0.1154,0.1085,0.100,0.0922,0.0828,0.0774,0.0738,0.0774,0.0738,0.0671,0.0602,0.0611,0.0548,0.0584,0.0553]},
{"p":"rh","s":"Helium","x":[5.45,5.55,5.65,5.75,5.85,5.95,6.05,6.15,6.25,6.35,6.45,6.55,6.65,6.75,6.85,6.95,7.05,7.15,7.25,7.35,7.45,7.55,7.65,7.75,7.85,7.95],"y":[0.1886,0.170,0.165,0.1564,0.1457,0.1385,0.1284,0.1213,0.1163,0.1081,0.103,0.1013,0.0915,0.0897,0.0828,0.0702,0.0693,0.0684,0.0684,0.0608,0.0638,0.0593,0.0557,0.0638,0.052,0.0512]},
{"p":"rh","s":"CNO","x":[5.45,5.55,5.65,5.75,5.85,5.95,6.05,6.15,6.25,6.35,6.45,6.55,6.65,6.75,6.85,6.95,7.05,7.15,7.25,7.35,7.45,7.55,7.65,7.75,7.85,7.95],"y":[0.1736,0.1627,0.1537,0.1439,0.1353,0.1284,0.1217,0.1154,0.1085,0.1031,0.0958,0.0933,0.0868,0.0832,0.0765,0.0714,0.0629,0.0702,0.0665,0.0665,0.0602,0.0593,0.0503,0.0497,0.052,0.0458]},
{"p":"rh","s":"MgAlSi","x":[5.45,5.55,5.65,5.75,5.85,5.95,6.05,6.15,6.25,6.35,6.45,6.55,6.65,6.75,6.85,6.95,7.05,7.15,7.25,7.35,7.45,7.55,7.65,7.75,7.85,7.95],"y":[0.1638,0.1533,0.1443,0.1358,0.1284,0.1217,0.119,0.1078,0.1042,0.0982,0.0933,0.0873,0.0837,0.0792,0.0747,0.0702,0.0656,0.0638,0.0687,0.0579,0.0552,0.0506,0.0448,0.0497,0.0488,0.0448]},
{"p":"rh","s":"Iron","x":[5.45,5.55,5.65,5.75,5.85,5.95,6.05,6.15,6.25,6.35,6.45,6.55,6.65,6.75,6.85,6.95,7.05,7.15,7.25,7.35,7.45,7.55,7.65,7.75,7.85,7.95],"y":[0.1497,0.141,0.1349,0.1262,0.1193,0.115,0.109,0.0978,0.094,0.090,0.0879,0.0814,0.077,0.0729,0.072,0.0629,0.0711,0.0539,0.0584,0.0553,0.0448,0.0561,0.0476,0.0398,0.0448,0.0421]},
{"p":"me","s":"Helium","x":[5.45,5.55,5.65,5.75,5.85,5.95,6.05,6.15,6.25,6.35,6.45,6.55,6.65,6.75,6.85,6.95,7.05,7.15,7.25,7.35,7.45,7.55,7.65,7.75,7.85,7.95],"y":[1.048,0.999,0.958,0.925,0.907,0.879,0.871,0.841,0.865,0.874,0.841,0.860,0.874,0.868,0.868,0.854,0.884,0.936,0.952,0.960,0.871,0.884,0.922,0.898,0.818,0.971]},
{"p":"me","s":"CNO","x":[5.45,5.55,5.65,5.75,5.85,5.95,6.05,6.15,6.25,6.35,6.45,6.55,6.65,6.75,6.85,6.95,7.05,7.15,7.25,7.35,7.45,7.55,7.65,7.75,7.85,7.95],"y":[0.695,0.677,0.646,0.618,0.588,0.574,0.550,0.528,0.512,0.488,0.463,0.463,0.433,0.445,0.428,0.436,0.439,0.403,0.441,0.474,0.479,0.468,0.515,0.490,0.532,0.539]},
{"p":"me","s":"MgAlSi","x":[5.45,5.55,5.65,5.75,5.85,5.95,6.05,6.15,6.25,6.35,6.45,6.55,6.65,6.75,6.85,6.95,7.05,7.15,7.25,7.35,7.45,7.55,7.65,7.75,7.85,7.95],"y":[0.561,0.555,0.528,0.507,0.487,0.472,0.468,0.441,0.420,0.403,0.387,0.371,0.349,0.335,0.322,0.320,0.316,0.302,0.316,0.351,0.362,0.341,0.376,0.357,0.367,0.425]},
{"p":"me","s":"Iron","x":[5.45,5.55,5.65,5.75,5.85,5.95,6.05,6.15,6.25,6.35,6.45,6.55,6.65,6.75,6.85,6.95,7.05,7.15,7.25,7.35,7.45,7.55,7.65,7.75,7.85,7.95],"y":[0.471,0.454,0.427,0.403,0.395,0.379,0.365,0.360,0.338,0.327,0.316,0.303,0.286,0.278,0.262,0.246,0.235,0.235,0.235,0.226,0.246,0.242,0.224,0.257,0.267,0.264]},
{"p":"mf","s":"Helium","x":[5.45,5.55,5.65,5.75,5.85,5.95,6.05,6.15,6.25,6.35,6.45,6.55,6.65,6.75,6.85,6.95,7.05,7.15,7.25,7.35,7.45,7.55,7.65,7.75,7.85,7.95],"y":[1.034,0.988,0.947,0.912,0.887,0.860,0.851,0.813,0.818,0.782,0.782,0.789,0.805,0.849,0.833,0.800,0.813,0.729,0.830,0.871,0.851,0.773,0.868,0.868,0.795,0.784]},
{"p":"mf","s":"CNO","x":[5.45,5.55,5.65,5.75,5.85,5.95,6.05,6.15,6.25,6.35,6.45,6.55,6.65,6.75,6.85,6.95,7.05,7.15,7.25,7.35,7.45,7.55,7.65,7.75,7.85,7.95],"y":[0.708,0.691,0.646,0.618,0.588,0.568,0.561,0.534,0.521,0.493,0.468,0.450,0.443,0.427,0.428,0.430,0.430,0.376,0.398,0.434,0.416,0.443,0.436,0.433,0.452,0.498]},
{"p":"mf","s":"MgAlSi","x":[5.45,5.55,5.65,5.75,5.85,5.95,6.05,6.15,6.25,6.35,6.45,6.55,6.65,6.75,6.85,6.95,7.05,7.15,7.25,7.35,7.45,7.55,7.65,7.75,7.85,7.95],"y":[0.593,0.579,0.539,0.517,0.493,0.476,0.458,0.436,0.420,0.411,0.395,0.384,0.360,0.346,0.335,0.320,0.313,0.302,0.305,0.295,0.292,0.316,0.351,0.354,0.352,0.371]},
{"p":"mf","s":"Iron","x":[5.45,5.55,5.65,5.75,5.85,5.95,6.05,6.15,6.25,6.35,6.45,6.55,6.65,6.75,6.85,6.95,7.05,7.15,7.25,7.35,7.45,7.55,7.65,7.75,7.85,7.95],"y":[0.545,0.498,0.463,0.425,0.401,0.389,0.373,0.360,0.346,0.338,0.316,0.314,0.292,0.282,0.267,0.267,0.237,0.237,0.232,0.213,0.218,0.257,0.208,0.237,0.246,0.237]},
{"p":"mg","s":"Helium","x":[5.45,5.55,5.65,5.75,5.85,5.95,6.05,6.15,6.25,6.35,6.45,6.55,6.65,6.75,6.85,6.95,7.05,7.15,7.25,7.35,7.45,7.55,7.65,7.75,7.85,7.95],"y":[1.062,1.028,0.994,0.960,0.919,0.892,0.883,0.848,0.870,0.867,0.814,0.814,0.808,0.808,0.808,0.828,0.822,0.881,0.784,0.835,0.921,0.859,0.980,0.843,0.857,0.835]},
{"p":"mg","s":"CNO","x":[5.45,5.55,5.65,5.75,5.85,5.95,6.05,6.15,6.25,6.35,6.45,6.55,6.65,6.75,6.85,6.95,7.05,7.15,7.25,7.35,7.45,7.55,7.65,7.75,7.85,7.95],"y":[0.717,0.701,0.672,0.639,0.621,0.596,0.584,0.555,0.541,0.525,0.509,0.490,0.482,0.455,0.444,0.441,0.423,0.430,0.434,0.405,0.401,0.418,0.450,0.498,0.487,0.517]},
{"p":"mg","s":"MgAlSi","x":[5.45,5.55,5.65,5.75,5.85,5.95,6.05,6.15,6.25,6.35,6.45,6.55,6.65,6.75,6.85,6.95,7.05,7.15,7.25,7.35,7.45,7.55,7.65,7.75,7.85,7.95],"y":[0.624,0.589,0.560,0.525,0.503,0.484,0.480,0.473,0.442,0.428,0.418,0.407,0.396,0.385,0.364,0.355,0.334,0.318,0.314,0.316,0.305,0.303,0.327,0.327,0.330,0.351]},
{"p":"mg","s":"Iron","x":[5.45,5.55,5.65,5.75,5.85,5.95,6.05,6.15,6.25,6.35,6.45,6.55,6.65,6.75,6.85,6.95,7.05,7.15,7.25,7.35,7.45,7.55,7.65,7.75,7.85,7.95],"y":[0.597,0.537,0.501,0.444,0.410,0.388,0.380,0.369,0.359,0.346,0.340,0.332,0.321,0.303,0.303,0.298,0.305,0.276,0.270,0.270,0.273,0.232,0.227,0.227,0.241,0.254]},
{"p":"mh","s":"Helium","x":[5.45,5.55,5.65,5.75,5.85,5.95,6.05,6.15,6.25,6.35,6.45,6.55,6.65,6.75,6.85,6.95,7.05,7.15,7.25,7.35,7.45,7.55,7.65,7.75,7.85,7.95],"y":[1.074,1.046,1.006,0.992,0.960,0.937,0.905,0.928,0.894,0.853,0.843,0.832,0.810,0.805,0.798,0.787,0.760,0.830,0.796,0.840,0.835,0.763,0.875,0.944,0.794,0.849]},
{"p":"mh","s":"CNO","x":[5.45,5.55,5.65,5.75,5.85,5.95,6.05,6.15,6.25,6.35,6.45,6.55,6.65,6.75,6.85,6.95,7.05,7.15,7.25,7.35,7.45,7.55,7.65,7.75,7.85,7.95],"y":[0.744,0.709,0.685,0.656,0.624,0.616,0.610,0.612,0.584,0.570,0.564,0.555,0.543,0.528,0.509,0.476,0.455,0.444,0.453,0.453,0.439,0.404,0.418,0.476,0.425,0.453]},
{"p":"mh","s":"MgAlSi","x":[5.45,5.55,5.65,5.75,5.85,5.95,6.05,6.15,6.25,6.35,6.45,6.55,6.65,6.75,6.85,6.95,7.05,7.15,7.25,7.35,7.45,7.55,7.65,7.75,7.85,7.95],"y":[0.691,0.632,0.591,0.546,0.512,0.496,0.480,0.476,0.476,0.468,0.457,0.460,0.448,0.437,0.426,0.410,0.412,0.425,0.407,0.372,0.364,0.337,0.359,0.367,0.372,0.343]},
{"p":"mh","s":"Iron","x":[5.45,5.55,5.65,5.75,5.85,5.95,6.05,6.15,6.25,6.35,6.45,6.55,6.65,6.75,6.85,6.95,7.05,7.15,7.25,7.35,7.45,7.55,7.65,7.75,7.85,7.95],"y":[0.698,0.616,0.564,0.516,0.455,0.418,0.388,0.359,0.355,0.355,0.361,0.355,0.353,0.350,0.339,0.337,0.348,0.310,0.330,0.346,0.310,0.282,0.289,0.254,0.266,0.264]}
]},
"spacing":40,
"resolve":{"scale":{"color":"independent","x":"independent","y":"independent"},"legend":{"color":"independent"}},
"hconcat":[
{"spacing":0,"resolve":{"scale":{"color":"independent","x":"independent","y":"independent"},"legend":{"color":"independent"}},
"hconcat":[
{"width":18,"height":2274,"data":{"values":[{}]},"mark":{"type":"rect","color":"#8eaadb"},"encoding":{},"view":{"stroke":null}},
{"width":20,"height":2274,"data":{"values":[{}]},"mark":{"type":"rect","color":"#bdd8bc"},"encoding":{},"view":{"stroke":null}},
{"spacing":3,"resolve":{"scale":{"color":"independent","x":"independent","y":"independent"},"legend":{"color":"independent"}},
"vconcat":[
{"spacing":2,"resolve":{"scale":{"color":"independent","x":"independent","y":"independent"},"legend":{"color":"independent"}},
"vconcat":[
{"title":{"text":"Energy bias < ± 5%","fontSize":46,"font":"Liberation Sans","fontWeight":"bold","color":"#0a35f5","anchor":"middle","offset":10,"dx":99},
"spacing":0,"resolve":{"scale":{"color":"independent","x":"independent","y":"independent"},"legend":{"color":"independent"}},
"vconcat":[
{"spacing":0,"resolve":{"scale":{"color":"independent","x":"independent","y":"independent"},"legend":{"color":"independent"}},
"hconcat":[
{"width":497,"height":505,"resolve":{"axis":{"x":"independent","y":"independent"}},"layer":[
{"data":{"name":"d"},"transform":[{"filter":"datum.p==='ea'"},{"flatten":["x","y"]}],"layer":[
{"mark":{"type":"point","filled":true,"size":80,"opacity":1},"encoding":{
"x":{"field":"x","type":"quantitative","scale":{"domain":[5.3,8.1],"nice":false,"zero":false},"axis":{"orient":"bottom","values":[5.5,6,6.5,7,7.5,8],"labels":false,"title":null,"tickSize":-14}},
"y":{"field":"y","type":"quantitative","scale":{"domain":[-0.15,0.15],"nice":false,"zero":false},"axis":{"orient":"left","values":[-0.15,-0.1,-0.05,0,0.05,0.1],"grid":true,"format":"~g","tickSize":-14,"labelPadding":22,"title":"Mean of ln(Erec/Etrue)","titleAnchor":"end","minExtent":61,"maxExtent":61,"titlePadding":6}},
"color":{"field":"s","type":"nominal","scale":{"domain":["Proton","Helium","CNO","MgAlSi","Iron"],"range":["#000000","#ff0000","#00ff00","#0000ff","#ff00ff"]},"legend":{"title":"Zen0 θ=[0.0°,19.7°]","orient":"bottom-left"}}}},
{"mark":{"type":"line","strokeWidth":2.5},"encoding":{"x":{"field":"x","type":"quantitative"},"y":{"field":"y","type":"quantitative"},"color":{"field":"s","type":"nominal"}}}]},
{"data":{"values":[{"t":"(a)"}]},"mark":{"type":"text","fontSize":24,"fontWeight":"bold","align":"left","baseline":"top"},"encoding":{"x":{"datum":5.45,"axis":{"orient":"bottom","values":[5.3,5.4,5.6,5.7,5.8,5.9,6.1,6.2,6.3,6.4,6.6,6.7,6.8,6.9,7.1,7.2,7.3,7.4,7.6,7.7,7.8,7.9,8.1],"labels":false,"title":null,"domain":false,"tickSize":-7}},"y":{"datum":0.13,"axis":{"orient":"left","values":[-0.14,-0.13,-0.12,-0.11,-0.09,-0.08,-0.07,-0.06,-0.04,-0.03,-0.02,-0.01,0.01,0.02,0.03,0.04,0.06,0.07,0.08,0.09,0.11,0.12,0.13,0.14],"labels":false,"title":null,"domain":false,"tickSize":-7,"minExtent":0,"maxExtent":0}},"text":{"field":"t"}}},
{"data":{"values":[{"t":"θ=[0°,19.7°]"}]},"mark":{"type":"text","fontSize":40},"encoding":{"x":{"datum":6.8,"axis":null},"y":{"datum":0.0855,"axis":null},"text":{"field":"t"}}}]},
{"width":520,"height":505,"resolve":{"axis":{"x":"independent","y":"independent"}},"layer":[
{"data":{"name":"d"},"transform":[{"filter":"datum.p==='eb'"},{"flatten":["x","y"]}],"layer":[
{"mark":{"type":"point","filled":true,"size":80,"opacity":1},"encoding":{
"x":{"field":"x","type":"quantitative","scale":{"domain":[5.3,8.1],"nice":false,"zero":false},"axis":{"orient":"bottom","values":[5.5,6,6.5,7,7.5,8],"labels":false,"title":null,"tickSize":-14}},
"y":{"field":"y","type":"quantitative","scale":{"domain":[-0.15,0.15],"nice":false,"zero":false},"axis":{"orient":"left","values":[-0.15,-0.1,-0.05,0,0.05,0.1],"grid":true,"labels":false,"tickSize":-14,"title":null,"minExtent":0,"maxExtent":0}},
"color":{"field":"s","type":"nominal","scale":{"domain":["Proton","Helium","CNO","MgAlSi","Iron"],"range":["#000000","#ff0000","#00ff00","#0000ff","#ff00ff"]},"legend":{"title":"Zen1 θ=[19.7°,28.0°]","orient":"bottom-left"}}}},
{"mark":{"type":"line","strokeWidth":2.5},"encoding":{"x":{"field":"x","type":"quantitative"},"y":{"field":"y","type":"quantitative"},"color":{"field":"s","type":"nominal"}}}]},
{"data":{"values":[{"t":"(b)"}]},"mark":{"type":"text","fontSize":24,"fontWeight":"bold","align":"left","baseline":"top"},"encoding":{"x":{"datum":5.44,"axis":{"orient":"bottom","values":[5.3,5.4,5.6,5.7,5.8,5.9,6.1,6.2,6.3,6.4,6.6,6.7,6.8,6.9,7.1,7.2,7.3,7.4,7.6,7.7,7.8,7.9,8.1],"labels":false,"title":null,"domain":false,"tickSize":-7}},"y":{"datum":0.13,"axis":{"orient":"left","values":[-0.14,-0.13,-0.12,-0.11,-0.09,-0.08,-0.07,-0.06,-0.04,-0.03,-0.02,-0.01,0.01,0.02,0.03,0.04,0.06,0.07,0.08,0.09,0.11,0.12,0.13,0.14],"labels":false,"title":null,"domain":false,"tickSize":-7,"minExtent":0,"maxExtent":0}},"text":{"field":"t"}}},
{"data":{"values":[{"t":"θ=[19.7°,28°]"}]},"mark":{"type":"text","fontSize":40},"encoding":{"x":{"datum":6.87,"axis":null},"y":{"datum":0.088,"axis":null},"text":{"field":"t"}}}]}
]},
{"spacing":0,"resolve":{"scale":{"color":"independent","x":"independent","y":"independent"},"legend":{"color":"independent"}},
"hconcat":[
{"width":497,"height":505,"resolve":{"axis":{"x":"independent","y":"independent"}},"layer":[
{"data":{"name":"d"},"transform":[{"filter":"datum.p==='ec'"},{"flatten":["x","y"]}],"layer":[
{"mark":{"type":"point","filled":true,"size":80,"opacity":1},"encoding":{
"x":{"field":"x","type":"quantitative","scale":{"domain":[5.3,8.1],"nice":false,"zero":false},"axis":{"orient":"bottom","values":[5.5,6,6.5,7,7.5,8],"format":"~g","tickSize":-14,"labelPadding":22,"title":"log₁₀(Rec. Energy) [GeV]","titleAnchor":"end","titlePadding":1}},
"y":{"field":"y","type":"quantitative","scale":{"domain":[-0.15,0.15],"nice":false,"zero":false},"axis":{"orient":"left","values":[-0.15,-0.1,-0.05,0,0.05,0.1],"grid":true,"format":"~g","tickSize":-14,"labelPadding":22,"title":"Mean of ln(Erec/Etrue)","titleAnchor":"end","minExtent":61,"maxExtent":61,"titlePadding":6}},
"color":{"field":"s","type":"nominal","scale":{"domain":["Proton","Helium","CNO","MgAlSi","Iron"],"range":["#000000","#ff0000","#00ff00","#0000ff","#ff00ff"]},"legend":{"title":"Zen2 θ=[28.0°,34.5°]","orient":"bottom-left"}}}},
{"mark":{"type":"line","strokeWidth":2.5},"encoding":{"x":{"field":"x","type":"quantitative"},"y":{"field":"y","type":"quantitative"},"color":{"field":"s","type":"nominal"}}}]},
{"data":{"values":[{"t":"(c)"}]},"mark":{"type":"text","fontSize":24,"fontWeight":"bold","align":"left","baseline":"top"},"encoding":{"x":{"datum":5.45,"axis":{"orient":"bottom","values":[5.3,5.4,5.6,5.7,5.8,5.9,6.1,6.2,6.3,6.4,6.6,6.7,6.8,6.9,7.1,7.2,7.3,7.4,7.6,7.7,7.8,7.9,8.1],"labels":false,"title":null,"domain":false,"tickSize":-7}},"y":{"datum":0.1275,"axis":{"orient":"left","values":[-0.14,-0.13,-0.12,-0.11,-0.09,-0.08,-0.07,-0.06,-0.04,-0.03,-0.02,-0.01,0.01,0.02,0.03,0.04,0.06,0.07,0.08,0.09,0.11,0.12,0.13,0.14],"labels":false,"title":null,"domain":false,"tickSize":-7,"minExtent":0,"maxExtent":0}},"text":{"field":"t"}}},
{"data":{"values":[{"t":"θ=[28°,34.5°]"}]},"mark":{"type":"text","fontSize":40},"encoding":{"x":{"datum":6.88,"axis":null},"y":{"datum":0.0735,"axis":null},"text":{"field":"t"}}}]},
{"width":520,"height":505,"resolve":{"axis":{"x":"independent","y":"independent"}},"layer":[
{"data":{"name":"d"},"transform":[{"filter":"datum.p==='ed'"},{"flatten":["x","y"]}],"layer":[
{"mark":{"type":"point","filled":true,"size":80,"opacity":1},"encoding":{
"x":{"field":"x","type":"quantitative","scale":{"domain":[5.3,8.1],"nice":false,"zero":false},"axis":{"orient":"bottom","values":[5.5,6,6.5,7,7.5,8],"format":"~g","tickSize":-14,"labelPadding":22,"title":"log₁₀(Rec. Energy) [GeV]","titleAnchor":"end","titlePadding":1}},
"y":{"field":"y","type":"quantitative","scale":{"domain":[-0.15,0.15],"nice":false,"zero":false},"axis":{"orient":"left","values":[-0.15,-0.1,-0.05,0,0.05,0.1],"grid":true,"labels":false,"tickSize":-14,"title":null,"minExtent":0,"maxExtent":0}},
"color":{"field":"s","type":"nominal","scale":{"domain":["Proton","Helium","CNO","MgAlSi","Iron"],"range":["#000000","#ff0000","#00ff00","#0000ff","#ff00ff"]},"legend":{"title":"Zen3 θ=[34.5°,40.0°]","orient":"bottom-left"}}}},
{"mark":{"type":"line","strokeWidth":2.5},"encoding":{"x":{"field":"x","type":"quantitative"},"y":{"field":"y","type":"quantitative"},"color":{"field":"s","type":"nominal"}}}]},
{"data":{"values":[{"t":"(d)"}]},"mark":{"type":"text","fontSize":24,"fontWeight":"bold","align":"left","baseline":"top"},"encoding":{"x":{"datum":5.44,"axis":{"orient":"bottom","values":[5.3,5.4,5.6,5.7,5.8,5.9,6.1,6.2,6.3,6.4,6.6,6.7,6.8,6.9,7.1,7.2,7.3,7.4,7.6,7.7,7.8,7.9,8.1],"labels":false,"title":null,"domain":false,"tickSize":-7}},"y":{"datum":0.1275,"axis":{"orient":"left","values":[-0.14,-0.13,-0.12,-0.11,-0.09,-0.08,-0.07,-0.06,-0.04,-0.03,-0.02,-0.01,0.01,0.02,0.03,0.04,0.06,0.07,0.08,0.09,0.11,0.12,0.13,0.14],"labels":false,"title":null,"domain":false,"tickSize":-7,"minExtent":0,"maxExtent":0}},"text":{"field":"t"}}},
{"data":{"values":[{"t":"θ=[35°,40°]"}]},"mark":{"type":"text","fontSize":40},"encoding":{"x":{"datum":6.85,"axis":null},"y":{"datum":0.0714,"axis":null},"text":{"field":"t"}}}]}
]}
]},
{"width":1068,"height":28,"data":{"values":[{}]},"mark":{"type":"rect","color":"#bdd8bc"},"encoding":{},"view":{"stroke":null}}
]},
{"title":{"text":"Energy resolution < 15%(θ<28°)","fontSize":46,"font":"Liberation Sans","fontWeight":"bold","color":"#0a35f5","anchor":"middle","offset":0,"dx":28},
"spacing":0,"resolve":{"scale":{"color":"independent","x":"independent","y":"independent"},"legend":{"color":"independent"}},
"vconcat":[
{"spacing":0,"resolve":{"scale":{"color":"independent","x":"independent","y":"independent"},"legend":{"color":"independent"}},
"hconcat":[
{"width":495,"height":503,"resolve":{"axis":{"x":"independent","y":"independent"}},"layer":[
{"data":{"name":"d"},"transform":[{"filter":"datum.p==='re'"},{"flatten":["x","y"]}],"layer":[
{"mark":{"type":"point","filled":true,"size":80,"opacity":1},"encoding":{
"x":{"field":"x","type":"quantitative","scale":{"domain":[5.3,8.1],"nice":false,"zero":false},"axis":{"orient":"bottom","values":[5.5,6,6.5,7,7.5,8],"labels":false,"title":null,"tickSize":-14}},
"y":{"field":"y","type":"quantitative","scale":{"domain":[0,0.25],"nice":false,"zero":false},"axis":{"orient":"left","values":[0,0.05,0.1,0.15,0.2],"grid":true,"format":"~g","tickSize":-14,"labelPadding":22,"title":"σ of ln(Erec/Etrue)","titleAnchor":"end","minExtent":61,"maxExtent":61,"titlePadding":6}},
"color":{"field":"s","type":"nominal","scale":{"domain":["Proton","Helium","CNO","MgAlSi","Iron"],"range":["#000000","#ff0000","#00ff00","#0000ff","#ff00ff"]},"legend":{"title":"Zen0 θ=[0.0°,19.7°]","orient":"top-right"}}}},
{"mark":{"type":"line","strokeWidth":2.5},"encoding":{"x":{"field":"x","type":"quantitative"},"y":{"field":"y","type":"quantitative"},"color":{"field":"s","type":"nominal"}}}]},
{"data":{"values":[{"t":"(e)"}]},"mark":{"type":"text","fontSize":24,"fontWeight":"bold","align":"left","baseline":"top"},"encoding":{"x":{"datum":5.46,"axis":{"orient":"bottom","values":[5.3,5.4,5.6,5.7,5.8,5.9,6.1,6.2,6.3,6.4,6.6,6.7,6.8,6.9,7.1,7.2,7.3,7.4,7.6,7.7,7.8,7.9,8.1],"labels":false,"title":null,"domain":false,"tickSize":-7}},"y":{"datum":0.233,"axis":{"orient":"left","values":[0.01,0.02,0.03,0.04,0.06,0.07,0.08,0.09,0.11,0.12,0.13,0.14,0.16,0.17,0.18,0.19,0.21,0.22,0.23,0.24],"labels":false,"title":null,"domain":false,"tickSize":-7,"minExtent":0,"maxExtent":0}},"text":{"field":"t"}}}]},
{"width":519,"height":503,"resolve":{"axis":{"x":"independent","y":"independent"}},"layer":[
{"data":{"name":"d"},"transform":[{"filter":"datum.p==='rf'"},{"flatten":["x","y"]}],"layer":[
{"mark":{"type":"point","filled":true,"size":80,"opacity":1},"encoding":{
"x":{"field":"x","type":"quantitative","scale":{"domain":[5.3,8.1],"nice":false,"zero":false},"axis":{"orient":"bottom","values":[5.5,6,6.5,7,7.5,8],"labels":false,"title":null,"tickSize":-14}},
"y":{"field":"y","type":"quantitative","scale":{"domain":[0,0.25],"nice":false,"zero":false},"axis":{"orient":"left","values":[0,0.05,0.1,0.15,0.2],"grid":true,"labels":false,"tickSize":-14,"title":null,"minExtent":0,"maxExtent":0}},
"color":{"field":"s","type":"nominal","scale":{"domain":["Proton","Helium","CNO","MgAlSi","Iron"],"range":["#000000","#ff0000","#00ff00","#0000ff","#ff00ff"]},"legend":{"title":"Zen1 θ=[19.7°,28.0°]","orient":"top-right"}}}},
{"mark":{"type":"line","strokeWidth":2.5},"encoding":{"x":{"field":"x","type":"quantitative"},"y":{"field":"y","type":"quantitative"},"color":{"field":"s","type":"nominal"}}}]},
{"data":{"values":[{"t":"(f)"}]},"mark":{"type":"text","fontSize":24,"fontWeight":"bold","align":"left","baseline":"top"},"encoding":{"x":{"datum":5.46,"axis":{"orient":"bottom","values":[5.3,5.4,5.6,5.7,5.8,5.9,6.1,6.2,6.3,6.4,6.6,6.7,6.8,6.9,7.1,7.2,7.3,7.4,7.6,7.7,7.8,7.9,8.1],"labels":false,"title":null,"domain":false,"tickSize":-7}},"y":{"datum":0.233,"axis":{"orient":"left","values":[0.01,0.02,0.03,0.04,0.06,0.07,0.08,0.09,0.11,0.12,0.13,0.14,0.16,0.17,0.18,0.19,0.21,0.22,0.23,0.24],"labels":false,"title":null,"domain":false,"tickSize":-7,"minExtent":0,"maxExtent":0}},"text":{"field":"t"}}}]}
]},
{"spacing":0,"resolve":{"scale":{"color":"independent","x":"independent","y":"independent"},"legend":{"color":"independent"}},
"hconcat":[
{"width":495,"height":503,"resolve":{"axis":{"x":"independent","y":"independent"}},"layer":[
{"data":{"name":"d"},"transform":[{"filter":"datum.p==='rg'"},{"flatten":["x","y"]}],"layer":[
{"mark":{"type":"point","filled":true,"size":80,"opacity":1},"encoding":{
"x":{"field":"x","type":"quantitative","scale":{"domain":[5.3,8.1],"nice":false,"zero":false},"axis":{"orient":"bottom","values":[5.5,6,6.5,7,7.5,8],"format":"~g","tickSize":-14,"labelPadding":22,"title":"log₁₀(Rec. Energy) [GeV]","titleAnchor":"end","titlePadding":1}},
"y":{"field":"y","type":"quantitative","scale":{"domain":[0,0.25],"nice":false,"zero":false},"axis":{"orient":"left","values":[0,0.05,0.1,0.15,0.2],"grid":true,"format":"~g","tickSize":-14,"labelPadding":22,"title":"σ of ln(Erec/Etrue)","titleAnchor":"end","minExtent":61,"maxExtent":61,"titlePadding":6}},
"color":{"field":"s","type":"nominal","scale":{"domain":["Proton","Helium","CNO","MgAlSi","Iron"],"range":["#000000","#ff0000","#00ff00","#0000ff","#ff00ff"]},"legend":{"title":"Zen2 θ=[28.0°,34.5°]","orient":"top-right"}}}},
{"mark":{"type":"line","strokeWidth":2.5},"encoding":{"x":{"field":"x","type":"quantitative"},"y":{"field":"y","type":"quantitative"},"color":{"field":"s","type":"nominal"}}}]},
{"data":{"values":[{"t":"(g)"}]},"mark":{"type":"text","fontSize":24,"fontWeight":"bold","align":"left","baseline":"top"},"encoding":{"x":{"datum":5.46,"axis":{"orient":"bottom","values":[5.3,5.4,5.6,5.7,5.8,5.9,6.1,6.2,6.3,6.4,6.6,6.7,6.8,6.9,7.1,7.2,7.3,7.4,7.6,7.7,7.8,7.9,8.1],"labels":false,"title":null,"domain":false,"tickSize":-7}},"y":{"datum":0.231,"axis":{"orient":"left","values":[0.01,0.02,0.03,0.04,0.06,0.07,0.08,0.09,0.11,0.12,0.13,0.14,0.16,0.17,0.18,0.19,0.21,0.22,0.23,0.24],"labels":false,"title":null,"domain":false,"tickSize":-7,"minExtent":0,"maxExtent":0}},"text":{"field":"t"}}}]},
{"width":519,"height":503,"resolve":{"axis":{"x":"independent","y":"independent"}},"layer":[
{"data":{"name":"d"},"transform":[{"filter":"datum.p==='rh'"},{"flatten":["x","y"]}],"layer":[
{"mark":{"type":"point","filled":true,"size":80,"opacity":1},"encoding":{
"x":{"field":"x","type":"quantitative","scale":{"domain":[5.3,8.1],"nice":false,"zero":false},"axis":{"orient":"bottom","values":[5.5,6,6.5,7,7.5,8],"format":"~g","tickSize":-14,"labelPadding":22,"title":"log₁₀(Rec. Energy) [GeV]","titleAnchor":"end","titlePadding":1}},
"y":{"field":"y","type":"quantitative","scale":{"domain":[0,0.25],"nice":false,"zero":false},"axis":{"orient":"left","values":[0,0.05,0.1,0.15,0.2],"grid":true,"labels":false,"tickSize":-14,"title":null,"minExtent":0,"maxExtent":0}},
"color":{"field":"s","type":"nominal","scale":{"domain":["Proton","Helium","CNO","MgAlSi","Iron"],"range":["#000000","#ff0000","#00ff00","#0000ff","#ff00ff"]},"legend":{"title":"Zen3 θ=[34.5°,40.0°]","orient":"top-right"}}}},
{"mark":{"type":"line","strokeWidth":2.5},"encoding":{"x":{"field":"x","type":"quantitative"},"y":{"field":"y","type":"quantitative"},"color":{"field":"s","type":"nominal"}}}]},
{"data":{"values":[{"t":"(h)"}]},"mark":{"type":"text","fontSize":24,"fontWeight":"bold","align":"left","baseline":"top"},"encoding":{"x":{"datum":5.46,"axis":{"orient":"bottom","values":[5.3,5.4,5.6,5.7,5.8,5.9,6.1,6.2,6.3,6.4,6.6,6.7,6.8,6.9,7.1,7.2,7.3,7.4,7.6,7.7,7.8,7.9,8.1],"labels":false,"title":null,"domain":false,"tickSize":-7}},"y":{"datum":0.231,"axis":{"orient":"left","values":[0.01,0.02,0.03,0.04,0.06,0.07,0.08,0.09,0.11,0.12,0.13,0.14,0.16,0.17,0.18,0.19,0.21,0.22,0.23,0.24],"labels":false,"title":null,"domain":false,"tickSize":-7,"minExtent":0,"maxExtent":0}},"text":{"field":"t"}}}]}
]}
]}
]},
{"width":30,"height":2274,"data":{"values":[{}]},"mark":{"type":"rect","color":"#bdd8bc"},"encoding":{},"view":{"stroke":null}}
]},
{"spacing":3,"resolve":{"scale":{"color":"independent","x":"independent","y":"independent"},"legend":{"color":"independent"}},
"vconcat":[
{"spacing":2,"resolve":{"scale":{"color":"independent","x":"independent","y":"independent"},"legend":{"color":"independent"}},
"vconcat":[
{"title":{"text":"lnA bias < 0.3","fontSize":46,"font":"Liberation Sans","fontWeight":"bold","color":"#0a35f5","anchor":"middle","offset":4,"dx":-58},
"spacing":0,"resolve":{"scale":{"color":"independent","x":"independent","y":"independent"},"legend":{"color":"independent"}},
"vconcat":[
{"spacing":0,"resolve":{"scale":{"color":"independent","x":"independent","y":"independent"},"legend":{"color":"independent"}},
"hconcat":[
{"width":507,"height":505,"resolve":{"axis":{"x":"independent","y":"independent"}},"layer":[
{"data":{"name":"ref"},"mark":{"type":"rule","strokeDash":[7,5],"strokeWidth":2.5,"color":"#555555"},"encoding":{"y":{"field":"v","type":"quantitative","axis":null},"x":{"datum":5.3,"axis":null},"x2":{"datum":7.98}}},
{"data":{"name":"d"},"transform":[{"filter":"datum.p==='la'"},{"flatten":["x","y"]}],"layer":[
{"mark":{"type":"point","filled":true,"size":80,"opacity":1},"encoding":{
"x":{"field":"x","type":"quantitative","scale":{"domain":[5.3,8.1],"nice":false,"zero":false},"axis":{"orient":"bottom","values":[5.5,6,6.5,7,7.5,8],"labels":false,"title":null,"tickSize":-14}},
"y":{"field":"y","type":"quantitative","scale":{"domain":[-3,5],"nice":false,"zero":false},"axis":{"orient":"left","values":[-3,-2,-1,0,1,2,3,4],"format":"~g","tickSize":-14,"labelPadding":22,"title":"Mean lnA","titleFontSize":13,"titleAnchor":"end","minExtent":24,"maxExtent":24,"titlePadding":4}},
"color":{"field":"s","type":"nominal","scale":{"domain":["Proton","Helium","CNO","MgAlSi","Iron"],"range":["#000000","#ff0000","#00ff00","#0000ff","#ff00ff"]},"legend":{"title":"Zen0 θ=[0.0°,19.7°]","orient":"bottom-left"}}}},
{"mark":{"type":"line","strokeWidth":2.5},"encoding":{"x":{"field":"x","type":"quantitative"},"y":{"field":"y","type":"quantitative"},"color":{"field":"s","type":"nominal"}}}]},
{"data":{"values":[{"t":"(a)"}]},"mark":{"type":"text","fontSize":24,"fontWeight":"bold","align":"left","baseline":"top"},"encoding":{"x":{"datum":5.47,"axis":{"orient":"bottom","values":[5.3,5.4,5.6,5.7,5.8,5.9,6.1,6.2,6.3,6.4,6.6,6.7,6.8,6.9,7.1,7.2,7.3,7.4,7.6,7.7,7.8,7.9,8.1],"labels":false,"title":null,"domain":false,"tickSize":-7}},"y":{"datum":4.78,"axis":{"orient":"left","values":[-2.8,-2.6,-2.4,-2.2,-1.8,-1.6,-1.4,-1.2,-0.8,-0.6,-0.4,-0.2,0.2,0.4,0.6,0.8,1.2,1.4,1.6,1.8,2.2,2.4,2.6,2.8,3.2,3.4,3.6,3.8,4.2,4.4,4.6,4.8],"labels":false,"title":null,"domain":false,"tickSize":-7,"minExtent":0,"maxExtent":0}},"text":{"field":"t"}}}]},
{"width":530,"height":505,"resolve":{"axis":{"x":"independent","y":"independent"}},"layer":[
{"data":{"name":"ref"},"mark":{"type":"rule","strokeDash":[7,5],"strokeWidth":2.5,"color":"#555555"},"encoding":{"y":{"field":"v","type":"quantitative","axis":null},"x":{"datum":5.3,"axis":null},"x2":{"datum":7.98}}},
{"data":{"name":"d"},"transform":[{"filter":"datum.p==='lb'"},{"flatten":["x","y"]}],"layer":[
{"mark":{"type":"point","filled":true,"size":80,"opacity":1},"encoding":{
"x":{"field":"x","type":"quantitative","scale":{"domain":[5.3,8.1],"nice":false,"zero":false},"axis":{"orient":"bottom","values":[5.5,6,6.5,7,7.5,8],"labels":false,"title":null,"tickSize":-14}},
"y":{"field":"y","type":"quantitative","scale":{"domain":[-3,5],"nice":false,"zero":false},"axis":{"orient":"left","values":[-3,-2,-1,0,1,2,3,4],"labels":false,"tickSize":-14,"title":null,"minExtent":0,"maxExtent":0}},
"color":{"field":"s","type":"nominal","scale":{"domain":["Proton","Helium","CNO","MgAlSi","Iron"],"range":["#000000","#ff0000","#00ff00","#0000ff","#ff00ff"]},"legend":{"title":"Zen1 θ=[19.7°,28.0°]","orient":"bottom-left"}}}},
{"mark":{"type":"line","strokeWidth":2.5},"encoding":{"x":{"field":"x","type":"quantitative"},"y":{"field":"y","type":"quantitative"},"color":{"field":"s","type":"nominal"}}}]},
{"data":{"values":[{"t":"(b)"}]},"mark":{"type":"text","fontSize":24,"fontWeight":"bold","align":"left","baseline":"top"},"encoding":{"x":{"datum":5.44,"axis":{"orient":"bottom","values":[5.3,5.4,5.6,5.7,5.8,5.9,6.1,6.2,6.3,6.4,6.6,6.7,6.8,6.9,7.1,7.2,7.3,7.4,7.6,7.7,7.8,7.9,8.1],"labels":false,"title":null,"domain":false,"tickSize":-7}},"y":{"datum":4.78,"axis":{"orient":"left","values":[-2.8,-2.6,-2.4,-2.2,-1.8,-1.6,-1.4,-1.2,-0.8,-0.6,-0.4,-0.2,0.2,0.4,0.6,0.8,1.2,1.4,1.6,1.8,2.2,2.4,2.6,2.8,3.2,3.4,3.6,3.8,4.2,4.4,4.6,4.8],"labels":false,"title":null,"domain":false,"tickSize":-7,"minExtent":0,"maxExtent":0}},"text":{"field":"t"}}}]}
]},
{"spacing":0,"resolve":{"scale":{"color":"independent","x":"independent","y":"independent"},"legend":{"color":"independent"}},
"hconcat":[
{"width":507,"height":505,"resolve":{"axis":{"x":"independent","y":"independent"}},"layer":[
{"data":{"name":"ref"},"mark":{"type":"rule","strokeDash":[7,5],"strokeWidth":2.5,"color":"#555555"},"encoding":{"y":{"field":"v","type":"quantitative","axis":null},"x":{"datum":5.3,"axis":null},"x2":{"datum":7.98}}},
{"data":{"name":"d"},"transform":[{"filter":"datum.p==='lc'"},{"flatten":["x","y"]}],"layer":[
{"mark":{"type":"point","filled":true,"size":80,"opacity":1},"encoding":{
"x":{"field":"x","type":"quantitative","scale":{"domain":[5.3,8.1],"nice":false,"zero":false},"axis":{"orient":"bottom","values":[5.5,6,6.5,7,7.5,8],"format":"~g","tickSize":-14,"labelPadding":22,"title":"log₁₀(Rec. Energy) [GeV]","titleAnchor":"end","titlePadding":1}},
"y":{"field":"y","type":"quantitative","scale":{"domain":[-3,5],"nice":false,"zero":false},"axis":{"orient":"left","values":[-3,-2,-1,0,1,2,3,4],"format":"~g","tickSize":-14,"labelPadding":22,"title":"Mean lnA","titleFontSize":13,"titleAnchor":"end","minExtent":24,"maxExtent":24,"titlePadding":4}},
"color":{"field":"s","type":"nominal","scale":{"domain":["Proton","Helium","CNO","MgAlSi","Iron"],"range":["#000000","#ff0000","#00ff00","#0000ff","#ff00ff"]},"legend":{"title":"Zen2 θ=[28.0°,34.5°]","orient":"bottom-left"}}}},
{"mark":{"type":"line","strokeWidth":2.5},"encoding":{"x":{"field":"x","type":"quantitative"},"y":{"field":"y","type":"quantitative"},"color":{"field":"s","type":"nominal"}}}]},
{"data":{"values":[{"t":"(c)"}]},"mark":{"type":"text","fontSize":24,"fontWeight":"bold","align":"left","baseline":"top"},"encoding":{"x":{"datum":5.47,"axis":{"orient":"bottom","values":[5.3,5.4,5.6,5.7,5.8,5.9,6.1,6.2,6.3,6.4,6.6,6.7,6.8,6.9,7.1,7.2,7.3,7.4,7.6,7.7,7.8,7.9,8.1],"labels":false,"title":null,"domain":false,"tickSize":-7}},"y":{"datum":4.72,"axis":{"orient":"left","values":[-2.8,-2.6,-2.4,-2.2,-1.8,-1.6,-1.4,-1.2,-0.8,-0.6,-0.4,-0.2,0.2,0.4,0.6,0.8,1.2,1.4,1.6,1.8,2.2,2.4,2.6,2.8,3.2,3.4,3.6,3.8,4.2,4.4,4.6,4.8],"labels":false,"title":null,"domain":false,"tickSize":-7,"minExtent":0,"maxExtent":0}},"text":{"field":"t"}}}]},
{"width":530,"height":505,"resolve":{"axis":{"x":"independent","y":"independent"}},"layer":[
{"data":{"name":"ref"},"mark":{"type":"rule","strokeDash":[7,5],"strokeWidth":2.5,"color":"#555555"},"encoding":{"y":{"field":"v","type":"quantitative","axis":null},"x":{"datum":5.3,"axis":null},"x2":{"datum":7.98}}},
{"data":{"name":"d"},"transform":[{"filter":"datum.p==='ld'"},{"flatten":["x","y"]}],"layer":[
{"mark":{"type":"point","filled":true,"size":80,"opacity":1},"encoding":{
"x":{"field":"x","type":"quantitative","scale":{"domain":[5.3,8.1],"nice":false,"zero":false},"axis":{"orient":"bottom","values":[5.5,6,6.5,7,7.5,8],"format":"~g","tickSize":-14,"labelPadding":22,"title":"log₁₀(Rec. Energy) [GeV]","titleAnchor":"end","titlePadding":1}},
"y":{"field":"y","type":"quantitative","scale":{"domain":[-3,5],"nice":false,"zero":false},"axis":{"orient":"left","values":[-3,-2,-1,0,1,2,3,4],"labels":false,"tickSize":-14,"title":null,"minExtent":0,"maxExtent":0}},
"color":{"field":"s","type":"nominal","scale":{"domain":["Proton","Helium","CNO","MgAlSi","Iron"],"range":["#000000","#ff0000","#00ff00","#0000ff","#ff00ff"]},"legend":{"title":"Zen3 θ=[34.5°,40.0°]","orient":"bottom-left"}}}},
{"mark":{"type":"line","strokeWidth":2.5},"encoding":{"x":{"field":"x","type":"quantitative"},"y":{"field":"y","type":"quantitative"},"color":{"field":"s","type":"nominal"}}}]},
{"data":{"values":[{"t":"(d)"}]},"mark":{"type":"text","fontSize":24,"fontWeight":"bold","align":"left","baseline":"top"},"encoding":{"x":{"datum":5.44,"axis":{"orient":"bottom","values":[5.3,5.4,5.6,5.7,5.8,5.9,6.1,6.2,6.3,6.4,6.6,6.7,6.8,6.9,7.1,7.2,7.3,7.4,7.6,7.7,7.8,7.9,8.1],"labels":false,"title":null,"domain":false,"tickSize":-7}},"y":{"datum":4.72,"axis":{"orient":"left","values":[-2.8,-2.6,-2.4,-2.2,-1.8,-1.6,-1.4,-1.2,-0.8,-0.6,-0.4,-0.2,0.2,0.4,0.6,0.8,1.2,1.4,1.6,1.8,2.2,2.4,2.6,2.8,3.2,3.4,3.6,3.8,4.2,4.4,4.6,4.8],"labels":false,"title":null,"domain":false,"tickSize":-7,"minExtent":0,"maxExtent":0}},"text":{"field":"t"}}}]}
]}
]},
{"width":1061,"height":20,"data":{"values":[{}]},"mark":{"type":"rect","color":"#bdd8bc"},"encoding":{},"view":{"stroke":null}}
]},
{"title":{"text":"Mass resolution ~ 25% for Fe above 10PeV","fontSize":46,"font":"Liberation Sans","fontWeight":"bold","color":"#0a35f5","anchor":"middle","offset":0,"dx":35},
"spacing":0,"resolve":{"scale":{"color":"independent","x":"independent","y":"independent"},"legend":{"color":"independent"}},
"vconcat":[
{"spacing":0,"resolve":{"scale":{"color":"independent","x":"independent","y":"independent"},"legend":{"color":"independent"}},
"hconcat":[
{"width":507,"height":509,"resolve":{"axis":{"x":"independent","y":"independent"}},"layer":[
{"data":{"name":"d"},"transform":[{"filter":"datum.p==='me'"},{"flatten":["x","y"]}],"layer":[
{"mark":{"type":"point","filled":true,"size":80,"opacity":1},"encoding":{
"x":{"field":"x","type":"quantitative","scale":{"domain":[5.4,8.1],"nice":false,"zero":false},"axis":{"orient":"bottom","values":[5.5,6,6.5,7,7.5,8],"labels":false,"title":null,"tickSize":-14}},
"y":{"field":"y","type":"quantitative","scale":{"domain":[0,1.5],"nice":false,"zero":false},"axis":{"orient":"left","values":[0,0.2,0.4,0.6,0.8,1,1.2,1.4],"grid":true,"format":"~g","tickSize":-14,"labelPadding":22,"title":"RMS of lnA","titleFontSize":13,"titleAnchor":"end","minExtent":24,"maxExtent":24,"titlePadding":4}},
"color":{"field":"s","type":"nominal","scale":{"domain":["Helium","CNO","MgAlSi","Iron"],"range":["#ff0000","#00ff00","#0000ff","#ff00ff"]},"legend":{"title":"Zen0 θ=[0.0°,19.7°]","orient":"top-right"}}}},
{"mark":{"type":"line","strokeWidth":2.5},"encoding":{"x":{"field":"x","type":"quantitative"},"y":{"field":"y","type":"quantitative"},"color":{"field":"s","type":"nominal"}}}]},
{"data":{"values":[{"t":"(e)"}]},"mark":{"type":"text","fontSize":24,"fontWeight":"bold","align":"left","baseline":"top"},"encoding":{"x":{"datum":5.56,"axis":{"orient":"bottom","values":[5.4,5.6,5.7,5.8,5.9,6.1,6.2,6.3,6.4,6.6,6.7,6.8,6.9,7.1,7.2,7.3,7.4,7.6,7.7,7.8,7.9,8.1],"labels":false,"title":null,"domain":false,"tickSize":-7}},"y":{"datum":1.33,"axis":{"orient":"left","values":[0.05,0.1,0.15,0.25,0.3,0.35,0.45,0.5,0.55,0.65,0.7,0.75,0.85,0.9,0.95,1.05,1.1,1.15,1.25,1.3,1.35,1.45],"labels":false,"title":null,"domain":false,"tickSize":-7,"minExtent":0,"maxExtent":0}},"text":{"field":"t"}}}]},
{"width":530,"height":509,"resolve":{"axis":{"x":"independent","y":"independent"}},"layer":[
{"data":{"name":"d"},"transform":[{"filter":"datum.p==='mf'"},{"flatten":["x","y"]}],"layer":[
{"mark":{"type":"point","filled":true,"size":80,"opacity":1},"encoding":{
"x":{"field":"x","type":"quantitative","scale":{"domain":[5.4,8.1],"nice":false,"zero":false},"axis":{"orient":"bottom","values":[5.5,6,6.5,7,7.5,8],"labels":false,"title":null,"tickSize":-14}},
"y":{"field":"y","type":"quantitative","scale":{"domain":[0,1.5],"nice":false,"zero":false},"axis":{"orient":"left","values":[0,0.2,0.4,0.6,0.8,1,1.2,1.4],"grid":true,"labels":false,"tickSize":-14,"title":null,"minExtent":0,"maxExtent":0}},
"color":{"field":"s","type":"nominal","scale":{"domain":["Helium","CNO","MgAlSi","Iron"],"range":["#ff0000","#00ff00","#0000ff","#ff00ff"]},"legend":{"title":"Zen1 θ=[19.7°,28.0°]","orient":"top-right"}}}},
{"mark":{"type":"line","strokeWidth":2.5},"encoding":{"x":{"field":"x","type":"quantitative"},"y":{"field":"y","type":"quantitative"},"color":{"field":"s","type":"nominal"}}}]},
{"data":{"values":[{"t":"(f)"}]},"mark":{"type":"text","fontSize":24,"fontWeight":"bold","align":"left","baseline":"top"},"encoding":{"x":{"datum":5.53,"axis":{"orient":"bottom","values":[5.4,5.6,5.7,5.8,5.9,6.1,6.2,6.3,6.4,6.6,6.7,6.8,6.9,7.1,7.2,7.3,7.4,7.6,7.7,7.8,7.9,8.1],"labels":false,"title":null,"domain":false,"tickSize":-7}},"y":{"datum":1.33,"axis":{"orient":"left","values":[0.05,0.1,0.15,0.25,0.3,0.35,0.45,0.5,0.55,0.65,0.7,0.75,0.85,0.9,0.95,1.05,1.1,1.15,1.25,1.3,1.35,1.45],"labels":false,"title":null,"domain":false,"tickSize":-7,"minExtent":0,"maxExtent":0}},"text":{"field":"t"}}}]}
]},
{"spacing":0,"resolve":{"scale":{"color":"independent","x":"independent","y":"independent"},"legend":{"color":"independent"}},
"hconcat":[
{"width":507,"height":509,"resolve":{"axis":{"x":"independent","y":"independent"}},"layer":[
{"data":{"name":"d"},"transform":[{"filter":"datum.p==='mg'"},{"flatten":["x","y"]}],"layer":[
{"mark":{"type":"point","filled":true,"size":80,"opacity":1},"encoding":{
"x":{"field":"x","type":"quantitative","scale":{"domain":[5.4,8.1],"nice":false,"zero":false},"axis":{"orient":"bottom","values":[5.5,6,6.5,7,7.5,8],"format":"~g","tickSize":-14,"labelPadding":22,"title":"log₁₀(Rec. Energy) [GeV]","titleAnchor":"end","titlePadding":1}},
"y":{"field":"y","type":"quantitative","scale":{"domain":[0,1.5],"nice":false,"zero":false},"axis":{"orient":"left","values":[0,0.2,0.4,0.6,0.8,1,1.2,1.4],"grid":true,"format":"~g","tickSize":-14,"labelPadding":22,"title":"RMS of lnA","titleFontSize":13,"titleAnchor":"end","minExtent":24,"maxExtent":24,"titlePadding":4}},
"color":{"field":"s","type":"nominal","scale":{"domain":["Helium","CNO","MgAlSi","Iron"],"range":["#ff0000","#00ff00","#0000ff","#ff00ff"]},"legend":{"title":"Zen2 θ=[28.0°,34.5°]","orient":"top-right"}}}},
{"mark":{"type":"line","strokeWidth":2.5},"encoding":{"x":{"field":"x","type":"quantitative"},"y":{"field":"y","type":"quantitative"},"color":{"field":"s","type":"nominal"}}}]},
{"data":{"values":[{"t":"(g)"}]},"mark":{"type":"text","fontSize":24,"fontWeight":"bold","align":"left","baseline":"top"},"encoding":{"x":{"datum":5.56,"axis":{"orient":"bottom","values":[5.4,5.6,5.7,5.8,5.9,6.1,6.2,6.3,6.4,6.6,6.7,6.8,6.9,7.1,7.2,7.3,7.4,7.6,7.7,7.8,7.9,8.1],"labels":false,"title":null,"domain":false,"tickSize":-7}},"y":{"datum":1.305,"axis":{"orient":"left","values":[0.05,0.1,0.15,0.25,0.3,0.35,0.45,0.5,0.55,0.65,0.7,0.75,0.85,0.9,0.95,1.05,1.1,1.15,1.25,1.3,1.35,1.45],"labels":false,"title":null,"domain":false,"tickSize":-7,"minExtent":0,"maxExtent":0}},"text":{"field":"t"}}}]},
{"width":530,"height":509,"resolve":{"axis":{"x":"independent","y":"independent"}},"layer":[
{"data":{"name":"d"},"transform":[{"filter":"datum.p==='mh'"},{"flatten":["x","y"]}],"layer":[
{"mark":{"type":"point","filled":true,"size":80,"opacity":1},"encoding":{
"x":{"field":"x","type":"quantitative","scale":{"domain":[5.4,8.1],"nice":false,"zero":false},"axis":{"orient":"bottom","values":[5.5,6,6.5,7,7.5,8],"format":"~g","tickSize":-14,"labelPadding":22,"title":"log₁₀(Rec. Energy) [GeV]","titleAnchor":"end","titlePadding":1}},
"y":{"field":"y","type":"quantitative","scale":{"domain":[0,1.5],"nice":false,"zero":false},"axis":{"orient":"left","values":[0,0.2,0.4,0.6,0.8,1,1.2,1.4],"grid":true,"labels":false,"tickSize":-14,"title":null,"minExtent":0,"maxExtent":0}},
"color":{"field":"s","type":"nominal","scale":{"domain":["Helium","CNO","MgAlSi","Iron"],"range":["#ff0000","#00ff00","#0000ff","#ff00ff"]},"legend":{"title":"Zen3 θ=[34.5°,40.0°]","orient":"top-right"}}}},
{"mark":{"type":"line","strokeWidth":2.5},"encoding":{"x":{"field":"x","type":"quantitative"},"y":{"field":"y","type":"quantitative"},"color":{"field":"s","type":"nominal"}}}]},
{"data":{"values":[{"t":"(h)"}]},"mark":{"type":"text","fontSize":24,"fontWeight":"bold","align":"left","baseline":"top"},"encoding":{"x":{"datum":5.53,"axis":{"orient":"bottom","values":[5.4,5.6,5.7,5.8,5.9,6.1,6.2,6.3,6.4,6.6,6.7,6.8,6.9,7.1,7.2,7.3,7.4,7.6,7.7,7.8,7.9,8.1],"labels":false,"title":null,"domain":false,"tickSize":-7}},"y":{"datum":1.305,"axis":{"orient":"left","values":[0.05,0.1,0.15,0.25,0.3,0.35,0.45,0.5,0.55,0.65,0.7,0.75,0.85,0.9,0.95,1.05,1.1,1.15,1.25,1.3,1.35,1.45],"labels":false,"title":null,"domain":false,"tickSize":-7,"minExtent":0,"maxExtent":0}},"text":{"field":"t"}}}]}
]}
]}
]}
],
"config":{
"font":"Liberation Sans",
"view":{"stroke":"black","strokeWidth":1.5},
"text":{"font":"Liberation Sans","color":"black"},
"axis":{"domainColor":"black","domainWidth":1.5,"tickColor":"black","tickWidth":1.5,"tickSize":-12,"labelPadding":20,"labelColor":"black","titleColor":"black","labelFont":"Liberation Sans","titleFont":"Liberation Sans","labelFontSize":16,"titleFontSize":16,"titleFontWeight":"normal","grid":false,"labelFlush":false,"labelOverlap":false,"gridColor":"black","gridDash":[2,3],"gridWidth":1.2},
"legend":{"strokeColor":"black","fillColor":"white","padding":7,"labelFontSize":13,"titleFontSize":11.5,"titleFontWeight":"normal","titlePadding":6,"rowPadding":1,"symbolType":"M-1,-0.12H1V0.12H-1ZM-0.4,0A0.4,0.4,0,1,1,0.4,0A0.4,0.4,0,1,1,-0.4,0Z","symbolSize":441,"symbolStrokeWidth":0,"offset":0,"labelOffset":10,"cornerRadius":0,"labelFont":"Liberation Sans","titleFont":"Liberation Sans","labelColor":"black","titleColor":"black"}
}
}
